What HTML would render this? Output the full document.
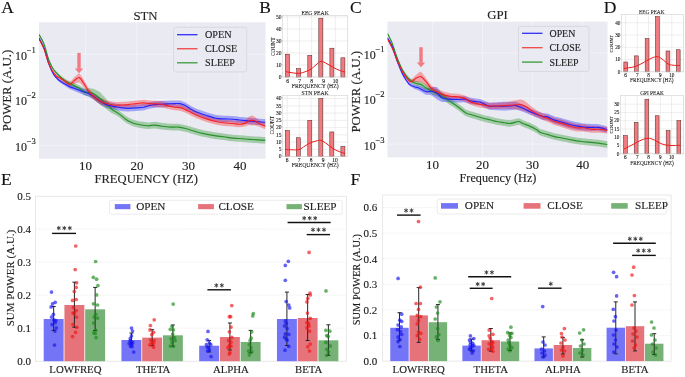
<!DOCTYPE html>
<html><head><meta charset="utf-8"><style>
html,body{margin:0;padding:0;background:#fff;width:685px;height:377px;overflow:hidden;}
svg{display:block;font-family:"Liberation Serif", serif;-webkit-font-smoothing:antialiased;}
text{stroke:currentColor;stroke-width:0.12px;}
body{transform:translateZ(0);will-change:transform;}
</style></head><body>
<svg width="685" height="377" viewBox="0 0 685 377" font-family='"Liberation Serif", serif'>
<rect width="685" height="377" fill="#ffffff"/>
<rect x="39" y="22.3" width="226.5" height="136.5" fill="#eaeaf2"/>
<line x1="85.4" y1="22.3" x2="85.4" y2="158.8" stroke="#ffffff" stroke-opacity="0.45" stroke-width="0.9"/>
<line x1="136.9" y1="22.3" x2="136.9" y2="158.8" stroke="#ffffff" stroke-opacity="0.45" stroke-width="0.9"/>
<line x1="188.4" y1="22.3" x2="188.4" y2="158.8" stroke="#ffffff" stroke-opacity="0.45" stroke-width="0.9"/>
<line x1="240.0" y1="22.3" x2="240.0" y2="158.8" stroke="#ffffff" stroke-opacity="0.45" stroke-width="0.9"/>
<line x1="39" y1="54.3" x2="265.5" y2="54.3" stroke="#ffffff" stroke-opacity="0.45" stroke-width="0.9"/>
<line x1="39" y1="99.5" x2="265.5" y2="99.5" stroke="#ffffff" stroke-opacity="0.45" stroke-width="0.9"/>
<line x1="39" y1="145.3" x2="265.5" y2="145.3" stroke="#ffffff" stroke-opacity="0.45" stroke-width="0.9"/>
<clipPath id="clipA"><rect x="39" y="22.3" width="226.5" height="136.5"/></clipPath>
<g clip-path="url(#clipA)">
<polygon points="39.00,33.50 40.49,36.33 41.98,39.16 43.47,41.99 44.96,46.20 46.45,51.17 47.94,56.14 49.43,60.28 50.92,63.23 52.41,66.14 53.90,68.68 55.39,70.21 56.88,71.74 58.37,73.27 59.86,74.80 61.35,75.95 62.84,77.06 64.33,78.17 65.82,79.16 67.31,79.92 68.80,80.68 70.29,81.41 71.78,82.05 73.27,82.69 74.76,83.33 76.25,83.97 77.74,84.61 79.23,85.25 80.72,86.18 82.21,87.13 83.70,88.08 85.19,88.86 86.68,88.56 88.17,88.27 89.66,88.29 91.15,88.40 92.64,88.52 94.13,89.04 95.62,89.80 97.12,90.57 98.61,91.33 100.10,92.18 101.59,93.82 103.08,95.45 104.57,97.08 106.06,98.71 107.55,100.42 109.04,102.15 110.53,103.89 112.02,105.61 113.51,106.85 115.00,108.08 116.49,109.02 117.98,109.96 119.47,110.98 120.96,112.17 122.45,113.37 123.94,114.56 125.43,115.76 126.92,116.60 128.41,117.39 129.90,118.18 131.39,118.97 132.88,119.58 134.37,119.98 135.86,120.38 137.35,120.78 138.84,121.18 140.33,121.40 141.82,121.61 143.31,121.82 144.80,122.03 146.29,122.24 147.78,122.45 149.27,122.38 150.76,122.22 152.25,122.07 153.74,121.91 155.23,121.87 156.72,122.12 158.21,122.37 159.70,122.62 161.19,122.87 162.68,123.02 164.17,123.17 165.66,123.31 167.15,123.46 168.64,123.60 170.13,123.74 171.62,123.80 173.11,123.80 174.60,123.80 176.09,123.80 177.58,123.80 179.07,123.90 180.56,124.22 182.05,124.53 183.54,124.85 185.03,125.17 186.52,125.48 188.01,125.92 189.50,126.37 190.99,126.81 192.48,127.26 193.97,127.69 195.46,128.11 196.95,128.53 198.44,128.95 199.93,129.37 201.42,129.80 202.91,130.18 204.40,130.46 205.89,130.74 207.38,131.02 208.88,131.30 210.37,131.58 211.86,131.87 213.35,132.13 214.84,132.33 216.33,132.53 217.82,132.72 219.31,132.92 220.80,133.12 222.29,133.31 223.78,133.51 225.27,133.72 226.76,133.93 228.25,134.14 229.74,134.34 231.23,134.55 232.72,134.76 234.21,134.88 235.70,134.97 237.19,135.07 238.68,135.17 240.17,135.26 241.66,135.36 243.15,135.48 244.64,135.61 246.13,135.75 247.62,135.88 249.11,136.02 250.60,136.14 252.09,136.23 253.58,136.33 255.07,136.43 256.56,136.52 258.05,136.62 259.54,136.72 261.03,136.81 262.52,136.91 264.01,137.00 265.50,137.10 265.50,143.70 264.01,143.60 262.52,143.51 261.03,143.41 259.54,143.32 258.05,143.22 256.56,143.12 255.07,143.03 253.58,142.93 252.09,142.83 250.60,142.74 249.11,142.62 247.62,142.48 246.13,142.35 244.64,142.21 243.15,142.08 241.66,141.96 240.17,141.86 238.68,141.77 237.19,141.67 235.70,141.57 234.21,141.48 232.72,141.36 231.23,141.15 229.74,140.94 228.25,140.74 226.76,140.53 225.27,140.32 223.78,140.11 222.29,139.91 220.80,139.72 219.31,139.52 217.82,139.32 216.33,139.13 214.84,138.93 213.35,138.73 211.86,138.47 210.37,138.18 208.88,137.90 207.38,137.62 205.89,137.34 204.40,137.06 202.91,136.78 201.42,136.40 199.93,135.97 198.44,135.55 196.95,135.13 195.46,134.71 193.97,134.29 192.48,133.86 190.99,133.41 189.50,132.97 188.01,132.52 186.52,132.08 185.03,131.77 183.54,131.45 182.05,131.13 180.56,130.82 179.07,130.50 177.58,130.40 176.09,130.40 174.60,130.40 173.11,130.40 171.62,130.40 170.13,130.34 168.64,130.20 167.15,130.06 165.66,129.91 164.17,129.77 162.68,129.62 161.19,129.47 159.70,129.22 158.21,128.97 156.72,128.72 155.23,128.47 153.74,128.51 152.25,128.67 150.76,128.82 149.27,128.98 147.78,129.05 146.29,128.84 144.80,128.63 143.31,128.42 141.82,128.21 140.33,128.00 138.84,127.78 137.35,127.38 135.86,126.98 134.37,126.58 132.88,126.18 131.39,125.57 129.90,124.78 128.41,123.99 126.92,123.20 125.43,122.36 123.94,121.16 122.45,119.97 120.96,118.77 119.47,117.58 117.98,116.56 116.49,115.62 115.00,114.68 113.51,114.05 112.02,113.41 110.53,112.27 109.04,111.14 107.55,110.00 106.06,108.89 104.57,107.85 103.08,106.82 101.59,105.78 100.10,104.75 98.61,103.37 97.12,102.01 95.62,100.65 94.13,99.29 92.64,98.18 91.15,97.47 89.66,96.75 88.17,96.13 86.68,95.84 85.19,95.54 83.70,94.51 82.21,93.36 80.72,92.22 79.23,91.09 77.74,90.25 76.25,89.42 74.76,88.58 73.27,87.75 71.78,86.91 70.29,86.08 68.80,85.15 67.31,84.19 65.82,83.24 64.33,82.06 62.84,80.75 61.35,79.44 59.86,78.10 58.37,76.37 56.88,74.65 55.39,72.92 53.90,71.19 52.41,68.46 50.92,65.35 49.43,62.28 47.94,58.14 46.45,53.17 44.96,48.20 43.47,43.99 41.98,41.16 40.49,38.33 39.00,35.50" fill="#008000" fill-opacity="0.3"/>
<polygon points="39.00,37.00 40.49,39.98 41.98,42.96 43.47,45.94 44.96,50.18 46.45,55.12 47.94,60.05 49.43,64.30 50.92,67.54 52.41,70.74 53.90,73.51 55.39,75.13 56.88,76.74 58.37,78.32 59.86,79.18 61.35,80.05 62.84,80.91 64.33,81.78 65.82,82.59 67.31,83.33 68.80,84.06 70.29,84.73 71.78,85.16 73.27,85.60 74.76,86.03 76.25,86.47 77.74,86.90 79.23,87.34 80.72,87.78 82.21,88.22 83.70,88.66 85.19,89.11 86.68,89.65 88.17,90.18 89.66,90.97 91.15,91.82 92.64,92.68 94.13,93.67 95.62,94.73 97.12,95.79 98.61,96.85 100.10,97.87 101.59,98.74 103.08,99.61 104.57,100.47 106.06,101.34 107.55,101.82 109.04,102.14 110.53,102.45 112.02,102.77 113.51,103.08 115.00,103.40 116.49,103.69 117.98,103.99 119.47,104.28 120.96,104.57 122.45,104.75 123.94,104.84 125.43,104.93 126.92,105.02 128.41,105.09 129.90,105.02 131.39,104.94 132.88,104.87 134.37,104.79 135.86,104.72 137.35,104.59 138.84,104.45 140.33,104.30 141.82,104.16 143.31,104.02 144.80,103.63 146.29,103.21 147.78,102.79 149.27,102.37 150.76,102.09 152.25,101.83 153.74,101.58 155.23,101.37 156.72,101.28 158.21,101.19 159.70,101.10 161.19,101.01 162.68,100.94 164.17,100.87 165.66,100.81 167.15,100.74 168.64,100.67 170.13,100.60 171.62,100.54 173.11,100.47 174.60,100.40 176.09,100.40 177.58,100.40 179.07,100.40 180.56,100.61 182.05,101.17 183.54,101.74 185.03,102.30 186.52,103.16 188.01,104.09 189.50,105.02 190.99,105.90 192.48,106.64 193.97,107.39 195.46,108.13 196.95,108.88 198.44,109.44 199.93,109.97 201.42,110.50 202.91,111.03 204.40,111.56 205.89,112.09 207.38,112.56 208.88,112.99 210.37,113.42 211.86,113.85 213.35,114.29 214.84,114.72 216.33,115.05 217.82,115.18 219.31,115.31 220.80,115.44 222.29,115.57 223.78,115.70 225.27,115.75 226.76,115.80 228.25,115.85 229.74,115.89 231.23,115.94 232.72,115.99 234.21,116.15 235.70,116.34 237.19,116.53 238.68,116.72 240.17,116.88 241.66,117.03 243.15,117.17 244.64,117.32 246.13,117.46 247.62,117.61 249.11,117.75 250.60,117.90 252.09,118.04 253.58,118.19 255.07,118.33 256.56,118.48 258.05,118.62 259.54,118.71 261.03,118.81 262.52,118.91 264.01,119.00 265.50,119.10 265.50,125.50 264.01,125.40 262.52,125.31 261.03,125.21 259.54,125.11 258.05,125.02 256.56,124.88 255.07,124.73 253.58,124.59 252.09,124.44 250.60,124.30 249.11,124.15 247.62,124.01 246.13,123.86 244.64,123.72 243.15,123.57 241.66,123.43 240.17,123.28 238.68,123.12 237.19,122.93 235.70,122.74 234.21,122.55 232.72,122.39 231.23,122.34 229.74,122.29 228.25,122.25 226.76,122.20 225.27,122.15 223.78,122.10 222.29,121.97 220.80,121.84 219.31,121.71 217.82,121.58 216.33,121.45 214.84,121.12 213.35,120.69 211.86,120.25 210.37,119.82 208.88,119.39 207.38,118.96 205.89,118.49 204.40,117.96 202.91,117.43 201.42,116.90 199.93,116.37 198.44,115.84 196.95,115.28 195.46,114.53 193.97,113.79 192.48,113.04 190.99,112.30 189.50,111.42 188.01,110.49 186.52,109.56 185.03,108.70 183.54,108.14 182.05,107.57 180.56,107.01 179.07,106.80 177.58,106.80 176.09,106.80 174.60,106.80 173.11,106.87 171.62,106.94 170.13,107.00 168.64,107.07 167.15,107.14 165.66,107.21 164.17,107.27 162.68,107.34 161.19,107.41 159.70,107.50 158.21,107.59 156.72,107.68 155.23,107.77 153.74,107.98 152.25,108.23 150.76,108.49 149.27,108.77 147.78,109.19 146.29,109.61 144.80,110.03 143.31,110.42 141.82,110.56 140.33,110.70 138.84,110.85 137.35,110.99 135.86,111.12 134.37,111.19 132.88,111.27 131.39,111.34 129.90,111.42 128.41,111.49 126.92,111.42 125.43,111.33 123.94,111.24 122.45,111.15 120.96,110.97 119.47,110.68 117.98,110.39 116.49,110.09 115.00,109.80 113.51,109.48 112.02,109.17 110.53,108.85 109.04,108.54 107.55,108.22 106.06,107.74 104.57,106.87 103.08,106.01 101.59,105.14 100.10,104.27 98.61,103.25 97.12,102.19 95.62,101.13 94.13,100.07 92.64,99.08 91.15,98.22 89.66,97.37 88.17,96.58 86.68,96.05 85.19,95.51 83.70,94.90 82.21,94.27 80.72,93.64 79.23,93.01 77.74,92.39 76.25,91.77 74.76,91.15 73.27,90.52 71.78,89.90 70.29,89.28 68.80,88.42 67.31,87.50 65.82,86.58 64.33,85.58 62.84,84.53 61.35,83.48 59.86,82.42 58.37,81.37 56.88,79.61 55.39,77.81 53.90,76.01 52.41,73.04 50.92,69.65 49.43,66.30 47.94,62.05 46.45,57.12 44.96,52.18 43.47,47.94 41.98,44.96 40.49,41.98 39.00,39.00" fill="#0000ff" fill-opacity="0.3"/>
<polygon points="39.00,38.00 40.49,40.89 41.98,43.78 43.47,46.67 44.96,50.77 46.45,55.54 47.94,60.31 49.43,63.65 50.92,66.87 52.41,69.70 53.90,71.57 55.39,73.45 56.88,75.17 58.37,75.76 59.86,76.35 61.35,77.24 62.84,78.16 64.33,79.08 65.82,79.95 67.31,80.72 68.80,81.48 70.29,81.83 71.78,80.25 73.27,78.49 74.76,76.78 76.25,75.46 77.74,74.14 79.23,72.94 80.72,75.04 82.21,77.27 83.70,79.50 85.19,82.10 86.68,84.84 88.17,87.28 89.66,89.11 91.15,90.79 92.64,92.47 94.13,93.77 95.62,94.83 97.12,95.89 98.61,96.95 100.10,97.91 101.59,98.49 103.08,99.07 104.57,99.65 106.06,100.23 107.55,100.61 109.04,100.91 110.53,101.21 112.02,101.50 113.51,101.80 115.00,102.10 116.49,102.05 117.98,102.01 119.47,101.96 120.96,101.92 122.45,101.85 123.94,101.76 125.43,101.67 126.92,101.58 128.41,101.49 129.90,101.30 131.39,101.11 132.88,100.92 134.37,100.73 135.86,100.54 137.35,100.37 138.84,100.21 140.33,100.05 141.82,99.88 143.31,99.72 144.80,99.87 146.29,100.07 147.78,100.27 149.27,100.47 150.76,100.57 152.25,100.66 153.74,100.74 155.23,100.82 156.72,100.89 158.21,100.96 159.70,101.02 161.19,101.09 162.68,101.43 164.17,101.81 165.66,102.20 167.15,102.58 168.64,102.92 170.13,103.21 171.62,103.50 173.11,103.79 174.60,104.08 176.09,104.21 177.58,104.32 179.07,104.43 180.56,104.71 182.05,105.27 183.54,105.84 185.03,106.40 186.52,107.10 188.01,107.83 189.50,108.56 190.99,109.30 192.48,110.04 193.97,110.79 195.46,111.53 196.95,112.28 198.44,112.85 199.93,113.40 201.42,113.94 202.91,114.49 204.40,115.03 205.89,115.58 207.38,116.05 208.88,116.46 210.37,116.88 211.86,117.30 213.35,117.71 214.84,118.13 216.33,118.49 217.82,118.73 219.31,118.98 220.80,119.22 222.29,119.47 223.78,119.71 225.27,119.82 226.76,119.93 228.25,120.04 229.74,120.15 231.23,120.27 232.72,120.38 234.21,120.55 235.70,120.74 237.19,120.93 238.68,121.12 240.17,121.06 241.66,120.81 243.15,120.57 244.64,120.33 246.13,119.20 247.62,117.91 249.11,116.62 250.60,115.98 252.09,115.62 253.58,116.03 255.07,116.98 256.56,118.23 258.05,119.47 259.54,120.46 261.03,121.19 262.52,121.93 264.01,122.66 265.50,123.40 265.50,129.60 264.01,128.86 262.52,128.13 261.03,127.39 259.54,126.66 258.05,126.18 256.56,125.76 255.07,125.32 253.58,125.17 252.09,125.58 250.60,125.22 249.11,125.05 247.62,125.53 246.13,126.01 244.64,126.53 243.15,126.77 241.66,127.01 240.17,127.26 238.68,127.32 237.19,127.13 235.70,126.94 234.21,126.75 232.72,126.58 231.23,126.47 229.74,126.35 228.25,126.24 226.76,126.13 225.27,126.02 223.78,125.91 222.29,125.67 220.80,125.42 219.31,125.18 217.82,124.93 216.33,124.69 214.84,124.33 213.35,123.91 211.86,123.50 210.37,123.08 208.88,122.66 207.38,122.25 205.89,121.78 204.40,121.23 202.91,120.69 201.42,120.14 199.93,119.60 198.44,119.05 196.95,118.48 195.46,117.73 193.97,116.99 192.48,116.24 190.99,115.50 189.50,114.76 188.01,114.03 186.52,113.30 185.03,112.60 183.54,112.04 182.05,111.47 180.56,110.91 179.07,110.63 177.58,110.52 176.09,110.41 174.60,110.28 173.11,109.99 171.62,109.70 170.13,109.41 168.64,109.12 167.15,108.78 165.66,108.40 164.17,108.01 162.68,107.63 161.19,107.29 159.70,107.22 158.21,107.16 156.72,107.09 155.23,107.02 153.74,106.94 152.25,106.86 150.76,106.77 149.27,106.67 147.78,106.47 146.29,106.27 144.80,106.07 143.31,105.92 141.82,106.08 140.33,106.25 138.84,106.41 137.35,106.57 135.86,106.74 134.37,106.93 132.88,107.12 131.39,107.31 129.90,107.50 128.41,107.69 126.92,107.78 125.43,107.87 123.94,107.96 122.45,108.05 120.96,108.12 119.47,108.16 117.98,108.21 116.49,108.25 115.00,108.30 113.51,108.00 112.02,107.70 110.53,107.41 109.04,107.11 107.55,106.81 106.06,106.43 104.57,105.85 103.08,105.27 101.59,104.69 100.10,104.11 98.61,103.15 97.12,102.09 95.62,101.03 94.13,99.97 92.64,98.67 91.15,96.99 89.66,95.31 88.17,93.48 86.68,91.20 85.19,89.21 83.70,87.19 82.21,85.53 80.72,83.87 79.23,82.33 77.74,82.84 76.25,83.24 74.76,83.63 73.27,84.42 71.78,85.25 70.29,86.26 68.80,85.74 67.31,84.79 65.82,83.85 64.33,82.80 62.84,81.70 61.35,80.60 59.86,79.53 58.37,78.76 56.88,78.00 55.39,76.10 53.90,74.04 52.41,71.99 50.92,68.98 49.43,65.65 47.94,62.31 46.45,57.54 44.96,52.77 43.47,48.67 41.98,45.78 40.49,42.89 39.00,40.00" fill="#ff0000" fill-opacity="0.3"/>
<path d="M39.00,34.50 C39.83,36.08 42.37,39.75 44.00,44.00 C45.63,48.25 47.22,55.75 48.80,60.00 C50.38,64.25 51.63,66.73 53.50,69.50 C55.37,72.27 58.03,74.70 60.00,76.60 C61.97,78.50 63.63,79.73 65.30,80.90 C66.97,82.07 67.67,82.38 70.00,83.60 C72.33,84.82 76.80,86.77 79.30,88.20 C81.80,89.63 83.47,91.53 85.00,92.20 C86.53,92.87 87.13,91.98 88.50,92.20 C89.87,92.42 91.32,92.50 93.20,93.50 C95.08,94.50 97.58,96.42 99.80,98.20 C102.02,99.98 104.47,102.32 106.50,104.20 C108.53,106.08 109.92,107.88 112.00,109.50 C114.08,111.12 116.73,112.28 119.00,113.90 C121.27,115.52 123.40,117.73 125.60,119.20 C127.80,120.67 129.98,121.82 132.20,122.70 C134.42,123.58 136.25,123.98 138.90,124.50 C141.55,125.02 145.45,125.70 148.10,125.80 C150.75,125.90 152.58,125.03 154.80,125.10 C157.02,125.17 158.75,125.87 161.40,126.20 C164.05,126.53 167.83,126.95 170.70,127.10 C173.57,127.25 175.95,126.82 178.60,127.10 C181.25,127.38 184.15,128.18 186.60,128.80 C189.05,129.42 190.65,130.03 193.30,130.80 C195.95,131.57 199.20,132.63 202.50,133.40 C205.80,134.17 209.57,134.83 213.10,135.40 C216.63,135.97 220.38,136.35 223.70,136.80 C227.02,137.25 229.90,137.78 233.00,138.10 C236.10,138.42 239.47,138.48 242.30,138.70 C245.13,138.92 246.13,139.12 250.00,139.40 C253.87,139.68 262.92,140.23 265.50,140.40" fill="none" stroke="#1d8c1d" stroke-width="1.15" stroke-opacity="0.92" stroke-linejoin="round"/>
<path d="M39.00,38.00 C39.83,39.67 42.37,43.68 44.00,48.00 C45.63,52.32 47.22,59.52 48.80,63.90 C50.38,68.28 51.92,71.65 53.50,74.30 C55.08,76.95 56.33,78.13 58.30,79.80 C60.27,81.47 63.35,83.12 65.30,84.30 C67.25,85.48 67.67,85.92 70.00,86.90 C72.33,87.88 76.22,89.10 79.30,90.20 C82.38,91.30 86.18,92.50 88.50,93.50 C90.82,94.50 91.32,94.97 93.20,96.20 C95.08,97.43 97.58,99.47 99.80,100.90 C102.02,102.33 103.97,103.85 106.50,104.80 C109.03,105.75 112.48,106.08 115.00,106.60 C117.52,107.12 119.38,107.62 121.60,107.90 C123.82,108.18 125.87,108.30 128.30,108.30 C130.73,108.30 133.67,108.08 136.20,107.90 C138.73,107.72 141.28,107.60 143.50,107.20 C145.72,106.80 147.62,105.93 149.50,105.50 C151.38,105.07 152.82,104.82 154.80,104.60 C156.78,104.38 159.20,104.32 161.40,104.20 C163.60,104.08 165.78,104.00 168.00,103.90 C170.22,103.80 172.70,103.65 174.70,103.60 C176.70,103.55 178.23,103.27 180.00,103.60 C181.77,103.93 183.53,104.72 185.30,105.60 C187.07,106.48 188.62,107.80 190.60,108.90 C192.58,110.00 194.55,111.10 197.20,112.20 C199.85,113.30 203.40,114.50 206.50,115.50 C209.60,116.50 212.93,117.63 215.80,118.20 C218.67,118.77 220.83,118.73 223.70,118.90 C226.57,119.07 230.40,119.02 233.00,119.20 C235.60,119.38 236.70,119.72 239.30,120.00 C241.90,120.28 245.52,120.60 248.60,120.90 C251.68,121.20 254.98,121.57 257.80,121.80 C260.62,122.03 264.22,122.22 265.50,122.30" fill="none" stroke="#1a1aff" stroke-width="1.15" stroke-opacity="0.92" stroke-linejoin="round"/>
<path d="M39.00,39.00 C39.83,40.62 42.50,44.95 44.00,48.70 C45.50,52.45 46.67,57.90 48.00,61.50 C49.33,65.10 50.55,67.80 52.00,70.30 C53.45,72.80 55.37,75.22 56.70,76.50 C58.03,77.78 58.57,77.15 60.00,78.00 C61.43,78.85 63.63,80.55 65.30,81.60 C66.97,82.65 68.45,84.52 70.00,84.30 C71.55,84.08 73.05,81.42 74.60,80.30 C76.15,79.18 77.75,77.05 79.30,77.60 C80.85,78.15 82.37,81.38 83.90,83.60 C85.43,85.82 86.95,88.80 88.50,90.90 C90.05,93.00 91.32,94.53 93.20,96.20 C95.08,97.87 97.58,99.68 99.80,100.90 C102.02,102.12 103.97,102.78 106.50,103.50 C109.03,104.22 112.48,104.95 115.00,105.20 C117.52,105.45 119.38,105.10 121.60,105.00 C123.82,104.90 125.87,104.83 128.30,104.60 C130.73,104.37 133.67,103.90 136.20,103.60 C138.73,103.30 141.28,102.80 143.50,102.80 C145.72,102.80 147.62,103.42 149.50,103.60 C151.38,103.78 152.82,103.80 154.80,103.90 C156.78,104.00 159.20,103.87 161.40,104.20 C163.60,104.53 165.78,105.40 168.00,105.90 C170.22,106.40 172.70,106.92 174.70,107.20 C176.70,107.48 178.23,107.20 180.00,107.60 C181.77,108.00 183.53,108.83 185.30,109.60 C187.07,110.37 188.62,111.22 190.60,112.20 C192.58,113.18 194.55,114.38 197.20,115.50 C199.85,116.62 203.40,117.90 206.50,118.90 C209.60,119.90 212.93,120.85 215.80,121.50 C218.67,122.15 220.83,122.47 223.70,122.80 C226.57,123.13 230.40,123.25 233.00,123.50 C235.60,123.75 237.33,124.32 239.30,124.30 C241.27,124.28 243.10,124.02 244.80,123.40 C246.50,122.78 247.95,121.07 249.50,120.60 C251.05,120.13 252.72,120.25 254.10,120.60 C255.48,120.95 255.90,121.72 257.80,122.70 C259.70,123.68 264.22,125.87 265.50,126.50" fill="none" stroke="#f51a1a" stroke-width="1.15" stroke-opacity="0.92" stroke-linejoin="round"/>
</g>
<rect x="77.3" y="52.9" width="3.4" height="15.899999999999999" fill="#f27a82"/>
<polygon points="74.8,68.39999999999999 83.2,68.39999999999999 79.0,73.3" fill="#f27a82"/>
<rect x="173.5" y="27.3" width="73.1" height="44.60000000000001" rx="2" fill="#eaeaf2" stroke="#d4d4d8" stroke-width="0.8"/>
<line x1="177.0" y1="34.7" x2="197.5" y2="34.7" stroke="#3030f5" stroke-width="1.3"/>
<text x="205.00" y="38.30" font-size="10.2" text-anchor="start" fill="#262626" >OPEN</text>
<line x1="177.0" y1="48.75" x2="197.5" y2="48.75" stroke="#f04545" stroke-width="1.3"/>
<text x="205.00" y="52.35" font-size="10.2" text-anchor="start" fill="#262626" >CLOSE</text>
<line x1="177.0" y1="62.800000000000004" x2="197.5" y2="62.800000000000004" stroke="#3a9a3a" stroke-width="1.3"/>
<text x="205.00" y="66.40" font-size="10.2" text-anchor="start" fill="#262626" >SLEEP</text>
<text x="145.50" y="19.60" font-size="12.8" text-anchor="middle" fill="#262626" >STN</text>
<text x="85.40" y="169.90" font-size="13" text-anchor="middle" fill="#262626" >10</text>
<text x="136.90" y="169.90" font-size="13" text-anchor="middle" fill="#262626" >20</text>
<text x="188.40" y="169.90" font-size="13" text-anchor="middle" fill="#262626" >30</text>
<text x="240.00" y="169.90" font-size="13" text-anchor="middle" fill="#262626" >40</text>
<text x="146.20" y="182.70" font-size="12.6" text-anchor="middle" fill="#262626" >FREQUENCY (HZ)</text>
<text x="26.90" y="60.10" font-size="12" text-anchor="end" fill="#262626">10</text>
<text x="35.80" y="52.80" font-size="8.6" text-anchor="end" fill="#262626">−1</text>
<text x="26.90" y="105.30" font-size="12" text-anchor="end" fill="#262626">10</text>
<text x="35.80" y="98.00" font-size="8.6" text-anchor="end" fill="#262626">−2</text>
<text x="26.90" y="151.10" font-size="12" text-anchor="end" fill="#262626">10</text>
<text x="35.80" y="143.80" font-size="8.6" text-anchor="end" fill="#262626">−3</text>
<text x="0" y="0" font-size="12.8" text-anchor="middle" fill="#262626" transform="translate(11.0,90.5) rotate(-90)">POWER (A.U.)</text>
<text x="1.20" y="13.10" font-size="17.5" text-anchor="start" fill="#111" >A</text>
<rect x="387.5" y="21.6" width="220.0" height="135.8" fill="#eaeaf2"/>
<line x1="432.4" y1="21.6" x2="432.4" y2="157.4" stroke="#ffffff" stroke-opacity="0.45" stroke-width="0.9"/>
<line x1="482.5" y1="21.6" x2="482.5" y2="157.4" stroke="#ffffff" stroke-opacity="0.45" stroke-width="0.9"/>
<line x1="532.6" y1="21.6" x2="532.6" y2="157.4" stroke="#ffffff" stroke-opacity="0.45" stroke-width="0.9"/>
<line x1="582.8" y1="21.6" x2="582.8" y2="157.4" stroke="#ffffff" stroke-opacity="0.45" stroke-width="0.9"/>
<line x1="387.5" y1="53.0" x2="607.5" y2="53.0" stroke="#ffffff" stroke-opacity="0.45" stroke-width="0.9"/>
<line x1="387.5" y1="98.5" x2="607.5" y2="98.5" stroke="#ffffff" stroke-opacity="0.45" stroke-width="0.9"/>
<line x1="387.5" y1="144.1" x2="607.5" y2="144.1" stroke="#ffffff" stroke-opacity="0.45" stroke-width="0.9"/>
<clipPath id="clipC"><rect x="387.5" y="21.6" width="220.0" height="135.8"/></clipPath>
<g clip-path="url(#clipC)">
<polygon points="387.50,32.40 389.00,35.52 390.49,38.64 391.99,41.76 393.49,46.03 394.98,50.49 396.48,54.95 397.98,58.73 399.47,62.15 400.97,65.48 402.47,68.77 403.96,70.84 405.46,72.79 406.96,74.74 408.45,76.70 409.95,77.86 411.45,78.67 412.94,79.49 414.44,80.31 415.94,80.77 417.43,81.01 418.93,81.26 420.43,81.50 421.92,82.16 423.42,83.00 424.91,83.85 426.41,84.70 427.91,85.56 429.40,86.41 430.90,87.26 432.40,88.08 433.89,88.69 435.39,89.30 436.89,89.91 438.38,90.57 439.88,91.44 441.38,92.31 442.87,93.18 444.37,94.05 445.87,95.16 447.36,96.36 448.86,97.57 450.36,98.53 451.85,99.49 453.35,100.44 454.85,101.40 456.34,102.35 457.84,103.40 459.34,104.58 460.83,105.75 462.33,106.93 463.83,108.11 465.32,109.28 466.82,109.92 468.32,110.43 469.81,110.94 471.31,111.39 472.81,111.83 474.30,112.27 475.80,112.71 477.30,113.17 478.79,113.62 480.29,114.07 481.79,114.53 483.28,114.98 484.78,115.43 486.28,115.76 487.77,116.07 489.27,116.37 490.77,116.72 492.26,117.11 493.76,117.49 495.26,117.88 496.75,118.24 498.25,118.48 499.74,118.73 501.24,118.97 502.74,119.21 504.23,119.46 505.73,119.66 507.23,119.86 508.72,120.06 510.22,120.10 511.72,119.75 513.21,119.40 514.71,119.05 516.21,118.73 517.70,118.45 519.20,118.25 520.70,119.02 522.19,119.79 523.69,120.47 525.19,121.05 526.68,121.63 528.18,122.21 529.68,122.79 531.17,123.54 532.67,124.29 534.17,125.03 535.66,125.78 537.16,126.75 538.66,127.88 540.15,128.95 541.65,129.40 543.15,129.85 544.64,130.30 546.14,130.75 547.64,131.20 549.13,131.65 550.63,132.10 552.13,132.55 553.62,133.01 555.12,133.40 556.62,133.69 558.11,133.97 559.61,134.26 561.11,134.55 562.60,134.84 564.10,135.15 565.60,135.46 567.09,135.77 568.59,136.07 570.09,136.37 571.58,136.66 573.08,136.94 574.57,137.23 576.07,137.52 577.57,137.72 579.06,137.88 580.56,138.05 582.06,138.21 583.55,138.37 585.05,138.52 586.55,138.67 588.04,138.81 589.54,138.96 591.04,139.10 592.53,139.25 594.03,139.39 595.53,139.53 597.02,139.68 598.52,139.84 600.02,140.08 601.51,140.32 603.01,140.57 604.51,140.81 606.00,141.06 607.50,141.30 607.50,147.90 606.00,147.66 604.51,147.41 603.01,147.17 601.51,146.92 600.02,146.68 598.52,146.44 597.02,146.28 595.53,146.13 594.03,145.99 592.53,145.85 591.04,145.70 589.54,145.56 588.04,145.41 586.55,145.27 585.05,145.12 583.55,144.97 582.06,144.81 580.56,144.65 579.06,144.48 577.57,144.32 576.07,144.12 574.57,143.83 573.08,143.54 571.58,143.26 570.09,142.97 568.59,142.67 567.09,142.37 565.60,142.06 564.10,141.75 562.60,141.44 561.11,141.15 559.61,140.86 558.11,140.57 556.62,140.29 555.12,140.00 553.62,139.61 552.13,139.15 550.63,138.70 549.13,138.25 547.64,137.80 546.14,137.35 544.64,136.90 543.15,136.45 541.65,136.00 540.15,135.55 538.66,134.48 537.16,133.35 535.66,132.38 534.17,131.63 532.67,130.89 531.17,130.14 529.68,129.39 528.18,128.81 526.68,128.23 525.19,127.65 523.69,127.07 522.19,126.39 520.70,125.62 519.20,124.85 517.70,125.05 516.21,125.33 514.71,125.65 513.21,126.00 511.72,126.35 510.22,126.70 508.72,126.66 507.23,126.46 505.73,126.26 504.23,126.06 502.74,125.81 501.24,125.57 499.74,125.33 498.25,125.08 496.75,124.84 495.26,124.48 493.76,124.09 492.26,123.71 490.77,123.32 489.27,122.97 487.77,122.67 486.28,122.36 484.78,122.03 483.28,121.58 481.79,121.13 480.29,120.67 478.79,120.22 477.30,119.77 475.80,119.31 474.30,118.87 472.81,118.43 471.31,117.99 469.81,117.54 468.32,117.03 466.82,116.52 465.32,115.88 463.83,114.71 462.33,113.53 460.83,112.35 459.34,111.18 457.84,110.00 456.34,108.95 454.85,108.00 453.35,107.04 451.85,106.09 450.36,105.13 448.86,104.17 447.36,102.96 445.87,101.76 444.37,100.65 442.87,99.78 441.38,98.91 439.88,98.04 438.38,97.17 436.89,96.51 435.39,95.90 433.89,95.29 432.40,94.68 430.90,93.86 429.40,93.01 427.91,92.16 426.41,91.30 424.91,90.44 423.42,89.31 421.92,88.19 420.43,87.26 418.93,86.74 417.43,86.22 415.94,85.70 414.44,84.97 412.94,83.88 411.45,82.78 409.95,81.69 408.45,80.25 406.96,78.02 405.46,75.80 403.96,73.57 402.47,71.22 400.97,67.66 399.47,64.15 397.98,60.73 396.48,56.95 394.98,52.49 393.49,48.03 391.99,43.76 390.49,40.64 389.00,37.52 387.50,34.40" fill="#008000" fill-opacity="0.3"/>
<polygon points="387.50,36.70 389.00,39.47 390.49,42.24 391.99,45.01 393.49,49.23 394.98,53.69 396.48,58.15 397.98,62.07 399.47,65.71 400.97,69.26 402.47,72.77 403.96,75.02 405.46,77.15 406.96,79.28 408.45,81.42 409.95,82.51 411.45,83.17 412.94,83.83 414.44,84.49 415.94,84.89 417.43,85.13 418.93,85.53 420.43,86.16 421.92,86.79 423.42,87.42 424.91,88.06 426.41,88.68 427.91,88.51 429.40,87.87 430.90,87.20 432.40,86.96 433.89,86.99 435.39,87.03 436.89,87.12 438.38,88.87 439.88,90.69 441.38,92.52 442.87,93.81 444.37,94.60 445.87,95.40 447.36,95.74 448.86,96.01 450.36,96.07 451.85,96.14 453.35,96.20 454.85,96.26 456.34,96.33 457.84,96.39 459.34,96.32 460.83,96.23 462.33,96.14 463.83,96.05 465.32,96.19 466.82,96.64 468.32,97.09 469.81,97.54 471.31,97.82 472.81,98.08 474.30,98.33 475.80,98.54 477.30,98.67 478.79,98.80 480.29,99.02 481.79,99.67 483.28,100.31 484.78,100.88 486.28,101.46 487.77,102.04 489.27,102.58 490.77,102.50 492.26,102.41 493.76,102.33 495.26,102.25 496.75,102.16 498.25,102.08 499.74,101.99 501.24,101.91 502.74,101.83 504.23,101.74 505.73,101.69 507.23,101.72 508.72,101.75 510.22,101.76 511.72,101.75 513.21,101.73 514.71,101.72 516.21,101.87 517.70,102.50 519.20,103.12 520.70,103.75 522.19,104.37 523.69,105.09 525.19,105.91 526.68,106.73 528.18,107.55 529.68,108.37 531.17,108.98 532.67,109.56 534.17,110.14 535.66,110.73 537.16,111.26 538.66,111.77 540.15,112.28 541.65,112.78 543.15,113.25 544.64,113.32 546.14,113.40 547.64,113.59 549.13,114.22 550.63,114.85 552.13,115.47 553.62,116.10 555.12,116.63 556.62,116.99 558.11,117.35 559.61,117.71 561.11,118.07 562.60,118.46 564.10,118.88 565.60,119.30 567.09,119.72 568.59,120.14 570.09,120.51 571.58,120.89 573.08,121.26 574.57,121.64 576.07,122.02 577.57,122.33 579.06,122.60 580.56,122.88 582.06,123.15 583.55,123.43 585.05,123.55 586.55,123.65 588.04,123.74 589.54,123.83 591.04,123.92 592.53,123.95 594.03,123.98 595.53,124.01 597.02,124.04 598.52,124.13 600.02,124.53 601.51,124.93 603.01,125.34 604.51,125.74 606.00,126.15 607.50,126.55 607.50,132.85 606.00,132.51 604.51,132.16 603.01,131.82 601.51,131.47 600.02,131.13 598.52,130.78 597.02,130.76 595.53,130.79 594.03,130.82 592.53,130.85 591.04,130.88 589.54,130.85 588.04,130.82 586.55,130.78 585.05,130.75 583.55,130.69 582.06,130.47 580.56,130.26 579.06,130.04 577.57,129.82 576.07,129.58 574.57,129.26 573.08,128.94 571.58,128.62 570.09,128.30 568.59,127.89 567.09,127.41 565.60,126.93 564.10,126.44 562.60,125.96 561.11,125.52 559.61,125.10 558.11,124.68 556.62,124.26 555.12,123.84 553.62,123.24 552.13,122.56 550.63,121.87 549.13,121.19 547.64,120.50 546.14,120.24 544.64,120.11 543.15,119.97 541.65,119.45 540.15,118.88 538.66,118.32 537.16,117.75 535.66,117.15 534.17,116.51 532.67,115.87 531.17,115.23 529.68,114.61 528.18,113.95 526.68,113.30 525.19,112.65 523.69,111.99 522.19,111.45 520.70,110.99 519.20,110.53 517.70,110.08 516.21,109.62 514.71,109.63 513.21,109.81 511.72,110.00 510.22,110.18 508.72,110.33 507.23,110.47 505.73,110.61 504.23,110.66 502.74,110.57 501.24,110.49 499.74,110.41 498.25,110.32 496.75,110.24 495.26,110.15 493.76,110.07 492.26,109.99 490.77,109.90 489.27,109.82 487.77,109.11 486.28,108.36 484.78,107.62 483.28,106.88 481.79,106.07 480.29,105.26 478.79,105.00 477.30,104.87 475.80,104.74 474.30,104.53 472.81,104.28 471.31,104.02 469.81,103.74 468.32,103.29 466.82,102.84 465.32,102.39 463.83,102.25 462.33,102.34 460.83,102.43 459.34,102.52 457.84,102.59 456.34,102.53 454.85,102.46 453.35,102.40 451.85,102.34 450.36,102.27 448.86,102.21 447.36,101.94 445.87,101.69 444.37,101.89 442.87,102.09 441.38,101.80 439.88,100.97 438.38,100.14 436.89,99.24 435.39,98.16 433.89,97.12 432.40,96.09 430.90,95.33 429.40,95.01 427.91,94.71 426.41,94.88 424.91,94.24 423.42,93.36 421.92,92.48 420.43,91.59 418.93,90.71 417.43,90.05 415.94,89.57 414.44,88.92 412.94,88.01 411.45,87.10 409.95,86.19 408.45,84.84 406.96,82.45 405.46,80.07 403.96,77.69 402.47,75.18 400.97,71.42 399.47,67.71 397.98,64.07 396.48,60.15 394.98,55.69 393.49,51.23 391.99,47.01 390.49,44.24 389.00,41.47 387.50,38.70" fill="#0000ff" fill-opacity="0.3"/>
<polygon points="387.50,38.00 389.00,40.87 390.49,43.73 391.99,46.60 393.49,50.19 394.98,53.90 396.48,57.61 397.98,60.99 399.47,64.20 400.97,67.32 402.47,70.41 403.96,72.47 405.46,74.44 406.96,76.40 408.45,78.36 409.95,79.13 411.45,79.40 412.94,78.32 414.44,76.46 415.94,75.00 417.43,73.78 418.93,72.56 420.43,71.62 421.92,72.80 423.42,74.66 424.91,76.52 426.41,78.55 427.91,80.90 429.40,82.79 430.90,84.65 432.40,85.94 433.89,86.85 435.39,87.76 436.89,88.67 438.38,89.51 439.88,90.09 441.38,90.67 442.87,91.25 444.37,91.83 445.87,92.23 447.36,92.54 448.86,92.86 450.36,93.18 451.85,93.43 453.35,93.52 454.85,93.61 456.34,93.70 457.84,93.79 459.34,94.10 460.83,94.43 462.33,94.77 463.83,95.10 465.32,95.68 466.82,96.58 468.32,97.48 469.81,98.39 471.31,98.90 472.81,99.35 474.30,99.80 475.80,100.26 477.30,100.64 478.79,100.93 480.29,101.22 481.79,101.51 483.28,101.80 484.78,102.08 486.28,102.35 487.77,102.63 489.27,102.90 490.77,102.90 492.26,102.90 493.76,102.90 495.26,102.90 496.75,102.89 498.25,102.81 499.74,102.74 501.24,102.66 502.74,102.59 504.23,102.51 505.73,102.41 507.23,102.11 508.72,101.77 510.22,101.45 511.72,101.15 513.21,100.85 514.71,100.55 516.21,100.24 517.70,99.92 519.20,99.60 520.70,99.40 522.19,99.77 523.69,100.53 525.19,101.29 526.68,102.39 528.18,103.66 529.68,104.93 531.17,106.16 532.67,107.29 534.17,108.41 535.66,109.54 537.16,110.55 538.66,111.39 540.15,112.09 541.65,112.80 543.15,113.49 544.64,113.98 546.14,114.47 547.64,114.99 549.13,115.62 550.63,116.25 552.13,116.87 553.62,117.50 555.12,118.03 556.62,118.39 558.11,118.75 559.61,119.11 561.11,119.47 562.60,119.89 564.10,120.37 565.60,120.85 567.09,121.34 568.59,121.82 570.09,122.23 571.58,122.65 573.08,123.07 574.57,123.49 576.07,123.91 577.57,124.05 579.06,124.08 580.56,124.11 582.06,124.14 583.55,124.17 585.05,124.46 586.55,124.80 588.04,125.15 589.54,125.49 591.04,125.82 592.53,125.85 594.03,125.88 595.53,125.91 597.02,125.94 598.52,125.99 600.02,126.19 601.51,126.38 603.01,126.57 604.51,126.76 606.00,126.96 607.50,127.15 607.50,133.45 606.00,133.32 604.51,133.18 603.01,133.05 601.51,132.92 600.02,132.79 598.52,132.65 597.02,132.66 595.53,132.69 594.03,132.72 592.53,132.75 591.04,132.78 589.54,132.51 588.04,132.22 586.55,131.94 585.05,131.66 583.55,131.43 582.06,131.46 580.56,131.49 579.06,131.52 577.57,131.55 576.07,131.47 574.57,131.11 573.08,130.75 571.58,130.39 570.09,130.03 568.59,129.56 567.09,129.02 565.60,128.48 564.10,127.93 562.60,127.39 561.11,126.92 559.61,126.50 558.11,126.08 556.62,125.66 555.12,125.24 553.62,124.64 552.13,123.96 550.63,123.27 549.13,122.59 547.64,121.90 546.14,121.32 544.64,120.77 543.15,120.21 541.65,119.47 540.15,118.70 538.66,117.93 537.16,117.29 535.66,116.67 534.17,115.93 532.67,115.19 531.17,114.46 529.68,113.62 528.18,112.80 526.68,111.98 525.19,111.34 523.69,111.03 522.19,110.71 520.70,110.01 519.20,109.76 517.70,109.63 516.21,109.50 514.71,109.36 513.21,109.21 511.72,109.06 510.22,108.91 508.72,108.79 507.23,108.68 505.73,108.61 504.23,108.71 502.74,108.79 501.24,108.86 499.74,108.94 498.25,109.01 496.75,109.09 495.26,109.10 493.76,109.10 492.26,109.10 490.77,109.10 489.27,109.10 487.77,108.83 486.28,108.55 484.78,108.28 483.28,108.00 481.79,107.71 480.29,107.42 478.79,107.13 477.30,106.84 475.80,106.46 474.30,106.00 472.81,105.55 471.31,105.10 469.81,104.59 468.32,103.68 466.82,102.78 465.32,101.88 463.83,101.30 462.33,100.97 460.83,100.63 459.34,100.30 457.84,99.99 456.34,99.90 454.85,99.81 453.35,99.72 451.85,99.63 450.36,99.38 448.86,99.06 447.36,98.74 445.87,98.43 444.37,98.03 442.87,97.45 441.38,96.87 439.88,96.29 438.38,95.71 436.89,94.87 435.39,93.96 433.89,93.05 432.40,92.14 430.90,90.85 429.40,88.99 427.91,87.16 426.41,85.78 424.91,84.71 423.42,83.57 421.92,82.44 420.43,81.97 418.93,82.24 417.43,82.24 415.94,82.24 414.44,82.47 412.94,83.11 411.45,83.32 409.95,82.81 408.45,81.78 406.96,79.57 405.46,77.35 403.96,75.14 402.47,72.82 400.97,69.49 399.47,66.20 397.98,62.99 396.48,59.61 394.98,55.90 393.49,52.19 391.99,48.60 390.49,45.73 389.00,42.87 387.50,40.00" fill="#ff0000" fill-opacity="0.3"/>
<path d="M387.50,33.40 C388.28,35.03 390.62,39.18 392.20,43.20 C393.78,47.22 395.27,52.98 397.00,57.50 C398.73,62.02 400.62,66.70 402.60,70.30 C404.58,73.90 406.83,76.98 408.90,79.10 C410.97,81.22 413.00,82.10 415.00,83.00 C417.00,83.90 419.23,83.80 420.90,84.50 C422.57,85.20 423.12,86.07 425.00,87.20 C426.88,88.33 430.02,90.22 432.20,91.30 C434.38,92.38 436.00,92.65 438.10,93.70 C440.20,94.75 443.00,96.40 444.80,97.60 C446.60,98.80 446.83,99.47 448.90,100.90 C450.97,102.33 454.42,104.22 457.20,106.20 C459.98,108.18 463.47,111.45 465.60,112.80 C467.73,114.15 468.42,113.80 470.00,114.30 C471.58,114.80 472.60,115.05 475.10,115.80 C477.60,116.55 482.53,118.13 485.00,118.80 C487.47,119.47 487.98,119.35 489.90,119.80 C491.82,120.25 494.07,121.00 496.50,121.50 C498.93,122.00 502.28,122.47 504.50,122.80 C506.72,123.13 507.92,123.62 509.80,123.50 C511.68,123.38 514.25,122.43 515.80,122.10 C517.35,121.77 517.90,121.27 519.10,121.50 C520.30,121.73 521.23,122.73 523.00,123.50 C524.77,124.27 527.48,125.12 529.70,126.10 C531.92,127.08 534.58,128.38 536.30,129.40 C538.02,130.42 538.17,131.37 540.00,132.20 C541.83,133.03 544.87,133.67 547.30,134.40 C549.73,135.13 552.17,136.00 554.60,136.60 C557.03,137.20 559.47,137.52 561.90,138.00 C564.33,138.48 566.77,139.02 569.20,139.50 C571.63,139.98 574.07,140.53 576.50,140.90 C578.93,141.27 581.38,141.45 583.80,141.70 C586.22,141.95 588.58,142.17 591.00,142.40 C593.42,142.63 595.55,142.73 598.30,143.10 C601.05,143.47 605.97,144.35 607.50,144.60" fill="none" stroke="#1d8c1d" stroke-width="1.15" stroke-opacity="0.92" stroke-linejoin="round"/>
<path d="M387.50,37.70 C388.28,39.15 390.62,42.57 392.20,46.40 C393.78,50.23 395.27,56.05 397.00,60.70 C398.73,65.35 400.62,70.45 402.60,74.30 C404.58,78.15 406.83,81.68 408.90,83.80 C410.97,85.92 413.43,86.33 415.00,87.00 C416.57,87.67 416.43,87.00 418.30,87.80 C420.17,88.60 424.00,91.23 426.20,91.80 C428.40,92.37 429.73,90.98 431.50,91.20 C433.27,91.42 435.03,92.00 436.80,93.10 C438.57,94.20 440.12,96.80 442.10,97.80 C444.08,98.80 446.05,98.82 448.70,99.10 C451.35,99.38 455.33,99.50 458.00,99.50 C460.67,99.50 462.70,98.90 464.70,99.10 C466.70,99.30 468.23,100.28 470.00,100.70 C471.77,101.12 473.63,101.38 475.30,101.60 C476.97,101.82 478.67,101.67 480.00,102.00 C481.33,102.33 481.77,102.90 483.30,103.60 C484.83,104.30 487.00,105.77 489.20,106.20 C491.40,106.63 493.95,106.20 496.50,106.20 C499.05,106.20 502.28,106.23 504.50,106.20 C506.72,106.17 507.92,106.10 509.80,106.00 C511.68,105.90 513.60,105.23 515.80,105.60 C518.00,105.97 520.68,107.22 523.00,108.20 C525.32,109.18 527.48,110.50 529.70,111.50 C531.92,112.50 534.08,113.35 536.30,114.20 C538.52,115.05 541.17,116.15 543.00,116.60 C544.83,117.05 545.37,116.32 547.30,116.90 C549.23,117.48 552.17,119.25 554.60,120.10 C557.03,120.95 559.47,121.32 561.90,122.00 C564.33,122.68 566.77,123.55 569.20,124.20 C571.63,124.85 574.07,125.42 576.50,125.90 C578.93,126.38 581.38,126.85 583.80,127.10 C586.22,127.35 588.58,127.35 591.00,127.40 C593.42,127.45 595.55,127.02 598.30,127.40 C601.05,127.78 605.97,129.32 607.50,129.70" fill="none" stroke="#1a1aff" stroke-width="1.15" stroke-opacity="0.92" stroke-linejoin="round"/>
<path d="M387.50,39.00 C388.28,40.50 390.62,44.52 392.20,48.00 C393.78,51.48 395.27,55.92 397.00,59.90 C398.73,63.88 400.62,68.43 402.60,71.90 C404.58,75.37 407.33,79.10 408.90,80.70 C410.47,82.30 410.98,81.78 412.00,81.50 C413.02,81.22 413.52,79.82 415.00,79.00 C416.48,78.18 419.03,76.12 420.90,76.60 C422.77,77.08 424.43,79.92 426.20,81.90 C427.97,83.88 429.52,86.73 431.50,88.50 C433.48,90.27 435.88,91.40 438.10,92.50 C440.32,93.60 442.58,94.43 444.80,95.10 C447.02,95.77 449.20,96.20 451.40,96.50 C453.60,96.80 455.78,96.58 458.00,96.90 C460.22,97.22 462.70,97.62 464.70,98.40 C466.70,99.18 468.02,100.73 470.00,101.60 C471.98,102.47 474.38,103.05 476.60,103.60 C478.82,104.15 481.20,104.50 483.30,104.90 C485.40,105.30 487.00,105.82 489.20,106.00 C491.40,106.18 493.95,106.07 496.50,106.00 C499.05,105.93 502.28,105.73 504.50,105.60 C506.72,105.47 507.92,105.32 509.80,105.20 C511.68,105.08 514.03,105.00 515.80,104.90 C517.57,104.80 518.75,104.33 520.40,104.60 C522.05,104.87 523.93,105.57 525.70,106.50 C527.47,107.43 529.23,109.03 531.00,110.20 C532.77,111.37 534.30,112.40 536.30,113.50 C538.30,114.60 541.17,116.00 543.00,116.80 C544.83,117.60 545.37,117.52 547.30,118.30 C549.23,119.08 552.17,120.65 554.60,121.50 C557.03,122.35 559.47,122.67 561.90,123.40 C564.33,124.13 566.77,125.17 569.20,125.90 C571.63,126.63 574.07,127.48 576.50,127.80 C578.93,128.12 581.38,127.55 583.80,127.80 C586.22,128.05 588.58,129.05 591.00,129.30 C593.42,129.55 595.55,129.13 598.30,129.30 C601.05,129.47 605.97,130.13 607.50,130.30" fill="none" stroke="#f51a1a" stroke-width="1.15" stroke-opacity="0.92" stroke-linejoin="round"/>
</g>
<rect x="419.3" y="47.2" width="3.4" height="15.599999999999994" fill="#f27a82"/>
<polygon points="416.8,62.4 425.2,62.4 421.0,67.3" fill="#f27a82"/>
<rect x="518.5" y="26.4" width="70.60000000000002" height="45.00000000000001" rx="2" fill="#eaeaf2" stroke="#d4d4d8" stroke-width="0.8"/>
<line x1="522.0" y1="33.3" x2="542.5" y2="33.3" stroke="#3030f5" stroke-width="1.3"/>
<text x="549.50" y="36.90" font-size="9.9" text-anchor="start" fill="#262626" >OPEN</text>
<line x1="522.0" y1="47.699999999999996" x2="542.5" y2="47.699999999999996" stroke="#f04545" stroke-width="1.3"/>
<text x="549.50" y="51.30" font-size="9.9" text-anchor="start" fill="#262626" >CLOSE</text>
<line x1="522.0" y1="62.099999999999994" x2="542.5" y2="62.099999999999994" stroke="#3a9a3a" stroke-width="1.3"/>
<text x="549.50" y="65.70" font-size="9.9" text-anchor="start" fill="#262626" >SLEEP</text>
<text x="497.50" y="19.40" font-size="12.8" text-anchor="middle" fill="#262626" >GPI</text>
<text x="432.40" y="168.50" font-size="13" text-anchor="middle" fill="#262626" >10</text>
<text x="482.50" y="168.50" font-size="13" text-anchor="middle" fill="#262626" >20</text>
<text x="532.60" y="168.50" font-size="13" text-anchor="middle" fill="#262626" >30</text>
<text x="582.80" y="168.50" font-size="13" text-anchor="middle" fill="#262626" >40</text>
<text x="498.00" y="181.50" font-size="12.2" text-anchor="middle" fill="#262626" >Frequency (Hz)</text>
<text x="375.70" y="58.80" font-size="12" text-anchor="end" fill="#262626">10</text>
<text x="384.60" y="51.50" font-size="8.6" text-anchor="end" fill="#262626">−1</text>
<text x="375.70" y="104.30" font-size="12" text-anchor="end" fill="#262626">10</text>
<text x="384.60" y="97.00" font-size="8.6" text-anchor="end" fill="#262626">−2</text>
<text x="375.70" y="149.90" font-size="12" text-anchor="end" fill="#262626">10</text>
<text x="384.60" y="142.60" font-size="8.6" text-anchor="end" fill="#262626">−3</text>
<text x="0" y="0" font-size="12.8" text-anchor="middle" fill="#262626" transform="translate(359.8,91.8) rotate(-90)">POWER (A.U.)</text>
<text x="350.00" y="13.40" font-size="17.5" text-anchor="start" fill="#111" >C</text>
<rect x="282.4" y="15.3" width="65.10000000000002" height="61.7" fill="#ffffff"/>
<line x1="287.5" y1="15.3" x2="287.5" y2="77.0" stroke="#e3e3e3" stroke-width="0.6"/>
<line x1="299.5" y1="15.3" x2="299.5" y2="77.0" stroke="#e3e3e3" stroke-width="0.6"/>
<line x1="311.6" y1="15.3" x2="311.6" y2="77.0" stroke="#e3e3e3" stroke-width="0.6"/>
<line x1="323.5" y1="15.3" x2="323.5" y2="77.0" stroke="#e3e3e3" stroke-width="0.6"/>
<line x1="335.4" y1="15.3" x2="335.4" y2="77.0" stroke="#e3e3e3" stroke-width="0.6"/>
<line x1="282.4" y1="77.0" x2="347.5" y2="77.0" stroke="#e3e3e3" stroke-width="0.6"/>
<line x1="282.4" y1="65.0" x2="347.5" y2="65.0" stroke="#e3e3e3" stroke-width="0.6"/>
<line x1="282.4" y1="53.0" x2="347.5" y2="53.0" stroke="#e3e3e3" stroke-width="0.6"/>
<line x1="282.4" y1="41.0" x2="347.5" y2="41.0" stroke="#e3e3e3" stroke-width="0.6"/>
<line x1="282.4" y1="29.0" x2="347.5" y2="29.0" stroke="#e3e3e3" stroke-width="0.6"/>
<line x1="282.4" y1="17.0" x2="347.5" y2="17.0" stroke="#e3e3e3" stroke-width="0.6"/>
<rect x="285.40" y="54.20" width="4.00" height="22.80" fill="#f07c82" stroke="#5a2a2a" stroke-width="0.55"/>
<rect x="296.70" y="68.60" width="4.00" height="8.40" fill="#f07c82" stroke="#5a2a2a" stroke-width="0.55"/>
<rect x="307.80" y="55.40" width="4.00" height="21.60" fill="#f07c82" stroke="#5a2a2a" stroke-width="0.55"/>
<rect x="318.80" y="18.20" width="4.00" height="58.80" fill="#f07c82" stroke="#5a2a2a" stroke-width="0.55"/>
<rect x="329.90" y="48.20" width="4.00" height="28.80" fill="#f07c82" stroke="#5a2a2a" stroke-width="0.55"/>
<rect x="340.90" y="57.80" width="4.00" height="19.20" fill="#f07c82" stroke="#5a2a2a" stroke-width="0.55"/>
<path d="M285.40,71.50 C286.33,71.68 288.73,72.28 291.00,72.60 C293.27,72.92 296.67,73.53 299.00,73.40 C301.33,73.27 303.00,72.50 305.00,71.80 C307.00,71.10 309.17,70.37 311.00,69.20 C312.83,68.03 314.33,66.12 316.00,64.80 C317.67,63.48 319.17,61.47 321.00,61.30 C322.83,61.13 325.00,62.82 327.00,63.80 C329.00,64.78 331.00,66.13 333.00,67.20 C335.00,68.27 337.00,69.40 339.00,70.20 C341.00,71.00 344.00,71.70 345.00,72.00" fill="none" stroke="#f01c1c" stroke-width="1.0"/>
<rect x="282.4" y="15.3" width="65.10000000000002" height="61.7" fill="none" stroke="#d0d0d0" stroke-width="0.6"/>
<text x="287.50" y="82.60" font-size="5.5" text-anchor="middle" fill="#222" style="stroke-width:0.1px">6</text>
<text x="299.50" y="82.60" font-size="5.5" text-anchor="middle" fill="#222" style="stroke-width:0.1px">7</text>
<text x="311.60" y="82.60" font-size="5.5" text-anchor="middle" fill="#222" style="stroke-width:0.1px">8</text>
<text x="323.50" y="82.60" font-size="5.5" text-anchor="middle" fill="#222" style="stroke-width:0.1px">9</text>
<text x="335.40" y="82.60" font-size="5.5" text-anchor="middle" fill="#222" style="stroke-width:0.1px">10</text>
<text x="281.50" y="78.70" font-size="5.5" text-anchor="end" fill="#222" style="stroke-width:0.1px">0</text>
<text x="281.50" y="66.70" font-size="5.5" text-anchor="end" fill="#222" style="stroke-width:0.1px">10</text>
<text x="281.50" y="54.70" font-size="5.5" text-anchor="end" fill="#222" style="stroke-width:0.1px">20</text>
<text x="281.50" y="42.70" font-size="5.5" text-anchor="end" fill="#222" style="stroke-width:0.1px">30</text>
<text x="281.50" y="30.70" font-size="5.5" text-anchor="end" fill="#222" style="stroke-width:0.1px">40</text>
<text x="281.50" y="18.70" font-size="5.5" text-anchor="end" fill="#222" style="stroke-width:0.1px">50</text>
<text x="315.10" y="15.20" font-size="5.7" text-anchor="middle" fill="#333" style="stroke-width:0.1px">EEG PEAK</text>
<text x="315.20" y="87.60" font-size="5.7" text-anchor="middle" fill="#333" style="stroke-width:0.1px">FREQUENCY (HZ)</text>
<text x="0" y="0" font-size="5.4" text-anchor="middle" fill="#333" style="stroke-width:0.1px" transform="translate(274.6,46.8) rotate(-90)">COUNT</text>
<rect x="282.4" y="95.5" width="65.40000000000003" height="61.099999999999994" fill="#ffffff"/>
<line x1="287.2" y1="95.5" x2="287.2" y2="156.6" stroke="#e3e3e3" stroke-width="0.6"/>
<line x1="299.2" y1="95.5" x2="299.2" y2="156.6" stroke="#e3e3e3" stroke-width="0.6"/>
<line x1="311.1" y1="95.5" x2="311.1" y2="156.6" stroke="#e3e3e3" stroke-width="0.6"/>
<line x1="323.2" y1="95.5" x2="323.2" y2="156.6" stroke="#e3e3e3" stroke-width="0.6"/>
<line x1="334.9" y1="95.5" x2="334.9" y2="156.6" stroke="#e3e3e3" stroke-width="0.6"/>
<line x1="282.4" y1="156.6" x2="347.8" y2="156.6" stroke="#e3e3e3" stroke-width="0.6"/>
<line x1="282.4" y1="149.35" x2="347.8" y2="149.35" stroke="#e3e3e3" stroke-width="0.6"/>
<line x1="282.4" y1="142.1" x2="347.8" y2="142.1" stroke="#e3e3e3" stroke-width="0.6"/>
<line x1="282.4" y1="134.85" x2="347.8" y2="134.85" stroke="#e3e3e3" stroke-width="0.6"/>
<line x1="282.4" y1="127.6" x2="347.8" y2="127.6" stroke="#e3e3e3" stroke-width="0.6"/>
<line x1="282.4" y1="120.35" x2="347.8" y2="120.35" stroke="#e3e3e3" stroke-width="0.6"/>
<line x1="282.4" y1="113.1" x2="347.8" y2="113.1" stroke="#e3e3e3" stroke-width="0.6"/>
<line x1="282.4" y1="105.85" x2="347.8" y2="105.85" stroke="#e3e3e3" stroke-width="0.6"/>
<line x1="282.4" y1="98.6" x2="347.8" y2="98.6" stroke="#e3e3e3" stroke-width="0.6"/>
<rect x="285.30" y="130.50" width="4.00" height="26.10" fill="#f07c82" stroke="#5a2a2a" stroke-width="0.55"/>
<rect x="296.30" y="137.75" width="4.00" height="18.85" fill="#f07c82" stroke="#5a2a2a" stroke-width="0.55"/>
<rect x="307.80" y="120.35" width="4.00" height="36.25" fill="#f07c82" stroke="#5a2a2a" stroke-width="0.55"/>
<rect x="318.80" y="98.60" width="4.00" height="58.00" fill="#f07c82" stroke="#5a2a2a" stroke-width="0.55"/>
<rect x="329.80" y="131.95" width="4.00" height="24.65" fill="#f07c82" stroke="#5a2a2a" stroke-width="0.55"/>
<rect x="340.90" y="146.45" width="4.00" height="10.15" fill="#f07c82" stroke="#5a2a2a" stroke-width="0.55"/>
<path d="M285.40,149.40 C286.50,149.47 289.73,149.77 292.00,149.80 C294.27,149.83 296.83,150.23 299.00,149.60 C301.17,148.97 303.17,147.10 305.00,146.00 C306.83,144.90 308.17,143.83 310.00,143.00 C311.83,142.17 314.17,141.43 316.00,141.00 C317.83,140.57 319.17,139.90 321.00,140.40 C322.83,140.90 325.00,142.63 327.00,144.00 C329.00,145.37 331.00,147.35 333.00,148.60 C335.00,149.85 337.00,150.68 339.00,151.50 C341.00,152.32 344.00,153.17 345.00,153.50" fill="none" stroke="#f01c1c" stroke-width="1.0"/>
<rect x="282.4" y="95.5" width="65.40000000000003" height="61.099999999999994" fill="none" stroke="#d0d0d0" stroke-width="0.6"/>
<text x="287.20" y="161.70" font-size="5.5" text-anchor="middle" fill="#222" style="stroke-width:0.1px">6</text>
<text x="299.20" y="161.70" font-size="5.5" text-anchor="middle" fill="#222" style="stroke-width:0.1px">7</text>
<text x="311.10" y="161.70" font-size="5.5" text-anchor="middle" fill="#222" style="stroke-width:0.1px">8</text>
<text x="323.20" y="161.70" font-size="5.5" text-anchor="middle" fill="#222" style="stroke-width:0.1px">9</text>
<text x="334.90" y="161.70" font-size="5.5" text-anchor="middle" fill="#222" style="stroke-width:0.1px">10</text>
<text x="281.50" y="158.30" font-size="5.5" text-anchor="end" fill="#222" style="stroke-width:0.1px">0</text>
<text x="281.50" y="151.05" font-size="5.5" text-anchor="end" fill="#222" style="stroke-width:0.1px">5</text>
<text x="281.50" y="143.80" font-size="5.5" text-anchor="end" fill="#222" style="stroke-width:0.1px">10</text>
<text x="281.50" y="136.55" font-size="5.5" text-anchor="end" fill="#222" style="stroke-width:0.1px">15</text>
<text x="281.50" y="129.30" font-size="5.5" text-anchor="end" fill="#222" style="stroke-width:0.1px">20</text>
<text x="281.50" y="122.05" font-size="5.5" text-anchor="end" fill="#222" style="stroke-width:0.1px">25</text>
<text x="281.50" y="114.80" font-size="5.5" text-anchor="end" fill="#222" style="stroke-width:0.1px">30</text>
<text x="281.50" y="107.55" font-size="5.5" text-anchor="end" fill="#222" style="stroke-width:0.1px">35</text>
<text x="281.50" y="100.30" font-size="5.5" text-anchor="end" fill="#222" style="stroke-width:0.1px">40</text>
<text x="315.10" y="94.80" font-size="5.7" text-anchor="middle" fill="#333" style="stroke-width:0.1px">STN PEAK</text>
<text x="315.20" y="167.40" font-size="5.7" text-anchor="middle" fill="#333" style="stroke-width:0.1px">FREQUENCY (HZ)</text>
<text x="0" y="0" font-size="5.4" text-anchor="middle" fill="#333" style="stroke-width:0.1px" transform="translate(273.6,125.2) rotate(-90)">COUNT</text>
<rect x="621.3" y="14.5" width="62.10000000000002" height="57.3" fill="#ffffff"/>
<line x1="625.5" y1="14.5" x2="625.5" y2="71.8" stroke="#e3e3e3" stroke-width="0.6"/>
<line x1="637.3" y1="14.5" x2="637.3" y2="71.8" stroke="#e3e3e3" stroke-width="0.6"/>
<line x1="648.5" y1="14.5" x2="648.5" y2="71.8" stroke="#e3e3e3" stroke-width="0.6"/>
<line x1="660.2" y1="14.5" x2="660.2" y2="71.8" stroke="#e3e3e3" stroke-width="0.6"/>
<line x1="671.8" y1="14.5" x2="671.8" y2="71.8" stroke="#e3e3e3" stroke-width="0.6"/>
<line x1="621.3" y1="71.8" x2="683.4" y2="71.8" stroke="#e3e3e3" stroke-width="0.6"/>
<line x1="621.3" y1="59.55" x2="683.4" y2="59.55" stroke="#e3e3e3" stroke-width="0.6"/>
<line x1="621.3" y1="47.3" x2="683.4" y2="47.3" stroke="#e3e3e3" stroke-width="0.6"/>
<line x1="621.3" y1="35.05" x2="683.4" y2="35.05" stroke="#e3e3e3" stroke-width="0.6"/>
<line x1="621.3" y1="22.799999999999997" x2="683.4" y2="22.799999999999997" stroke="#e3e3e3" stroke-width="0.6"/>
<rect x="623.85" y="62.00" width="3.80" height="9.80" fill="#f07c82" stroke="#5a2a2a" stroke-width="0.55"/>
<rect x="634.45" y="55.88" width="3.80" height="15.92" fill="#f07c82" stroke="#5a2a2a" stroke-width="0.55"/>
<rect x="645.20" y="38.72" width="3.80" height="33.08" fill="#f07c82" stroke="#5a2a2a" stroke-width="0.55"/>
<rect x="655.45" y="16.67" width="3.80" height="55.13" fill="#f07c82" stroke="#5a2a2a" stroke-width="0.55"/>
<rect x="666.05" y="50.97" width="3.80" height="20.83" fill="#f07c82" stroke="#5a2a2a" stroke-width="0.55"/>
<rect x="676.35" y="49.75" width="3.80" height="22.05" fill="#f07c82" stroke="#5a2a2a" stroke-width="0.55"/>
<path d="M624.00,68.50 C625.00,68.35 628.00,67.98 630.00,67.60 C632.00,67.22 634.00,66.90 636.00,66.20 C638.00,65.50 640.17,64.35 642.00,63.40 C643.83,62.45 645.33,61.40 647.00,60.50 C648.67,59.60 650.33,58.65 652.00,58.00 C653.67,57.35 655.33,56.43 657.00,56.60 C658.67,56.77 660.17,57.78 662.00,59.00 C663.83,60.22 666.17,62.87 668.00,63.90 C669.83,64.93 671.00,64.93 673.00,65.20 C675.00,65.47 678.83,65.45 680.00,65.50" fill="none" stroke="#f01c1c" stroke-width="1.0"/>
<rect x="621.3" y="14.5" width="62.10000000000002" height="57.3" fill="none" stroke="#d0d0d0" stroke-width="0.6"/>
<text x="625.50" y="77.20" font-size="5.2" text-anchor="middle" fill="#222" style="stroke-width:0.1px">6</text>
<text x="637.30" y="77.20" font-size="5.2" text-anchor="middle" fill="#222" style="stroke-width:0.1px">7</text>
<text x="648.50" y="77.20" font-size="5.2" text-anchor="middle" fill="#222" style="stroke-width:0.1px">8</text>
<text x="660.20" y="77.20" font-size="5.2" text-anchor="middle" fill="#222" style="stroke-width:0.1px">9</text>
<text x="671.80" y="77.20" font-size="5.2" text-anchor="middle" fill="#222" style="stroke-width:0.1px">10</text>
<text x="620.40" y="73.50" font-size="5.2" text-anchor="end" fill="#222" style="stroke-width:0.1px">0</text>
<text x="620.40" y="61.25" font-size="5.2" text-anchor="end" fill="#222" style="stroke-width:0.1px">10</text>
<text x="620.40" y="49.00" font-size="5.2" text-anchor="end" fill="#222" style="stroke-width:0.1px">20</text>
<text x="620.40" y="36.75" font-size="5.2" text-anchor="end" fill="#222" style="stroke-width:0.1px">30</text>
<text x="620.40" y="24.50" font-size="5.2" text-anchor="end" fill="#222" style="stroke-width:0.1px">40</text>
<text x="651.80" y="13.50" font-size="5.3" text-anchor="middle" fill="#333" style="stroke-width:0.1px">EEG PEAK</text>
<text x="651.70" y="81.90" font-size="5.3" text-anchor="middle" fill="#333" style="stroke-width:0.1px">FREQUENCY (HZ)</text>
<text x="0" y="0" font-size="5.0" text-anchor="middle" fill="#333" style="stroke-width:0.1px" transform="translate(613.4,43.8) rotate(-90)">COUNT</text>
<rect x="620.3" y="95.5" width="63.10000000000002" height="58.30000000000001" fill="#ffffff"/>
<line x1="625.4" y1="95.5" x2="625.4" y2="153.8" stroke="#e3e3e3" stroke-width="0.6"/>
<line x1="637.2" y1="95.5" x2="637.2" y2="153.8" stroke="#e3e3e3" stroke-width="0.6"/>
<line x1="648.6" y1="95.5" x2="648.6" y2="153.8" stroke="#e3e3e3" stroke-width="0.6"/>
<line x1="660.3" y1="95.5" x2="660.3" y2="153.8" stroke="#e3e3e3" stroke-width="0.6"/>
<line x1="671.5" y1="95.5" x2="671.5" y2="153.8" stroke="#e3e3e3" stroke-width="0.6"/>
<line x1="620.3" y1="153.8" x2="683.4" y2="153.8" stroke="#e3e3e3" stroke-width="0.6"/>
<line x1="620.3" y1="145.53" x2="683.4" y2="145.53" stroke="#e3e3e3" stroke-width="0.6"/>
<line x1="620.3" y1="137.26000000000002" x2="683.4" y2="137.26000000000002" stroke="#e3e3e3" stroke-width="0.6"/>
<line x1="620.3" y1="128.99" x2="683.4" y2="128.99" stroke="#e3e3e3" stroke-width="0.6"/>
<line x1="620.3" y1="120.72000000000001" x2="683.4" y2="120.72000000000001" stroke="#e3e3e3" stroke-width="0.6"/>
<line x1="620.3" y1="112.45000000000002" x2="683.4" y2="112.45000000000002" stroke="#e3e3e3" stroke-width="0.6"/>
<line x1="620.3" y1="104.18" x2="683.4" y2="104.18" stroke="#e3e3e3" stroke-width="0.6"/>
<rect x="623.55" y="135.61" width="3.80" height="18.19" fill="#f07c82" stroke="#5a2a2a" stroke-width="0.55"/>
<rect x="634.25" y="122.37" width="3.80" height="31.43" fill="#f07c82" stroke="#5a2a2a" stroke-width="0.55"/>
<rect x="644.95" y="99.22" width="3.80" height="54.58" fill="#f07c82" stroke="#5a2a2a" stroke-width="0.55"/>
<rect x="655.25" y="115.76" width="3.80" height="38.04" fill="#f07c82" stroke="#5a2a2a" stroke-width="0.55"/>
<rect x="666.20" y="130.64" width="3.80" height="23.16" fill="#f07c82" stroke="#5a2a2a" stroke-width="0.55"/>
<rect x="676.95" y="120.72" width="3.80" height="33.08" fill="#f07c82" stroke="#5a2a2a" stroke-width="0.55"/>
<path d="M624.00,149.00 C625.00,148.50 628.00,147.03 630.00,146.00 C632.00,144.97 634.00,143.83 636.00,142.80 C638.00,141.77 640.17,140.55 642.00,139.80 C643.83,139.05 645.33,138.43 647.00,138.30 C648.67,138.17 650.33,138.47 652.00,139.00 C653.67,139.53 655.33,140.67 657.00,141.50 C658.67,142.33 660.17,143.37 662.00,144.00 C663.83,144.63 666.00,145.05 668.00,145.30 C670.00,145.55 672.00,145.50 674.00,145.50 C676.00,145.50 679.00,145.33 680.00,145.30" fill="none" stroke="#f01c1c" stroke-width="1.0"/>
<rect x="620.3" y="95.5" width="63.10000000000002" height="58.30000000000001" fill="none" stroke="#d0d0d0" stroke-width="0.6"/>
<text x="625.40" y="159.00" font-size="5.2" text-anchor="middle" fill="#222" style="stroke-width:0.1px">6</text>
<text x="637.20" y="159.00" font-size="5.2" text-anchor="middle" fill="#222" style="stroke-width:0.1px">7</text>
<text x="648.60" y="159.00" font-size="5.2" text-anchor="middle" fill="#222" style="stroke-width:0.1px">8</text>
<text x="660.30" y="159.00" font-size="5.2" text-anchor="middle" fill="#222" style="stroke-width:0.1px">9</text>
<text x="671.50" y="159.00" font-size="5.2" text-anchor="middle" fill="#222" style="stroke-width:0.1px">10</text>
<text x="619.40" y="155.50" font-size="5.2" text-anchor="end" fill="#222" style="stroke-width:0.1px">0</text>
<text x="619.40" y="147.23" font-size="5.2" text-anchor="end" fill="#222" style="stroke-width:0.1px">5</text>
<text x="619.40" y="138.96" font-size="5.2" text-anchor="end" fill="#222" style="stroke-width:0.1px">10</text>
<text x="619.40" y="130.69" font-size="5.2" text-anchor="end" fill="#222" style="stroke-width:0.1px">15</text>
<text x="619.40" y="122.42" font-size="5.2" text-anchor="end" fill="#222" style="stroke-width:0.1px">20</text>
<text x="619.40" y="114.15" font-size="5.2" text-anchor="end" fill="#222" style="stroke-width:0.1px">25</text>
<text x="619.40" y="105.88" font-size="5.2" text-anchor="end" fill="#222" style="stroke-width:0.1px">30</text>
<text x="652.00" y="94.60" font-size="5.3" text-anchor="middle" fill="#333" style="stroke-width:0.1px">GPI PEAK</text>
<text x="652.00" y="164.60" font-size="5.3" text-anchor="middle" fill="#333" style="stroke-width:0.1px">FREQUENCY (HZ)</text>
<text x="0" y="0" font-size="5.0" text-anchor="middle" fill="#333" style="stroke-width:0.1px" transform="translate(613.4,124.8) rotate(-90)">COUNT</text>
<text x="259.30" y="13.10" font-size="17.5" text-anchor="start" fill="#111" >B</text>
<text x="603.80" y="13.10" font-size="17.5" text-anchor="start" fill="#111" >D</text>
<rect x="35.5" y="196.2" width="311.0" height="165.0" fill="#ffffff" stroke="#dedede" stroke-width="0.7"/>
<line x1="35.5" y1="328.20" x2="346.5" y2="328.20" stroke="#e6e6e6" stroke-width="0.6" stroke-dasharray="1.6,1.2"/>
<line x1="35.5" y1="295.20" x2="346.5" y2="295.20" stroke="#e6e6e6" stroke-width="0.6" stroke-dasharray="1.6,1.2"/>
<line x1="35.5" y1="262.20" x2="346.5" y2="262.20" stroke="#e6e6e6" stroke-width="0.6" stroke-dasharray="1.6,1.2"/>
<line x1="35.5" y1="229.20" x2="346.5" y2="229.20" stroke="#e6e6e6" stroke-width="0.6" stroke-dasharray="1.6,1.2"/>
<rect x="43.70" y="319.00" width="19.93" height="42.20" fill="#7474f6"/>
<rect x="64.43" y="305.00" width="19.93" height="56.20" fill="#e6737a"/>
<rect x="85.17" y="309.30" width="19.93" height="51.90" fill="#76b276"/>
<rect x="121.45" y="340.00" width="19.93" height="21.20" fill="#7474f6"/>
<rect x="142.18" y="337.60" width="19.93" height="23.60" fill="#e6737a"/>
<rect x="162.92" y="335.30" width="19.93" height="25.90" fill="#76b276"/>
<rect x="199.20" y="345.70" width="19.93" height="15.50" fill="#7474f6"/>
<rect x="219.93" y="337.00" width="19.93" height="24.20" fill="#e6737a"/>
<rect x="240.67" y="342.00" width="19.93" height="19.20" fill="#76b276"/>
<rect x="276.95" y="319.00" width="19.93" height="42.20" fill="#7474f6"/>
<rect x="297.68" y="318.00" width="19.93" height="43.20" fill="#e6737a"/>
<rect x="318.42" y="340.30" width="19.93" height="20.90" fill="#76b276"/>
<line x1="53.67" y1="306.5" x2="53.67" y2="330.5" stroke="#262626" stroke-width="1"/>
<line x1="51.67" y1="306.5" x2="55.67" y2="306.5" stroke="#262626" stroke-width="1"/>
<line x1="51.67" y1="330.5" x2="55.67" y2="330.5" stroke="#262626" stroke-width="1"/>
<line x1="74.40" y1="282.2" x2="74.40" y2="327.3" stroke="#262626" stroke-width="1"/>
<line x1="72.40" y1="282.2" x2="76.40" y2="282.2" stroke="#262626" stroke-width="1"/>
<line x1="72.40" y1="327.3" x2="76.40" y2="327.3" stroke="#262626" stroke-width="1"/>
<line x1="95.13" y1="287.4" x2="95.13" y2="330.5" stroke="#262626" stroke-width="1"/>
<line x1="93.13" y1="287.4" x2="97.13" y2="287.4" stroke="#262626" stroke-width="1"/>
<line x1="93.13" y1="330.5" x2="97.13" y2="330.5" stroke="#262626" stroke-width="1"/>
<line x1="131.42" y1="333.1" x2="131.42" y2="344" stroke="#262626" stroke-width="1"/>
<line x1="129.42" y1="333.1" x2="133.42" y2="333.1" stroke="#262626" stroke-width="1"/>
<line x1="129.42" y1="344" x2="133.42" y2="344" stroke="#262626" stroke-width="1"/>
<line x1="152.15" y1="329.7" x2="152.15" y2="345.7" stroke="#262626" stroke-width="1"/>
<line x1="150.15" y1="329.7" x2="154.15" y2="329.7" stroke="#262626" stroke-width="1"/>
<line x1="150.15" y1="345.7" x2="154.15" y2="345.7" stroke="#262626" stroke-width="1"/>
<line x1="172.88" y1="325" x2="172.88" y2="346.2" stroke="#262626" stroke-width="1"/>
<line x1="170.88" y1="325" x2="174.88" y2="325" stroke="#262626" stroke-width="1"/>
<line x1="170.88" y1="346.2" x2="174.88" y2="346.2" stroke="#262626" stroke-width="1"/>
<line x1="209.17" y1="340.4" x2="209.17" y2="352" stroke="#262626" stroke-width="1"/>
<line x1="207.17" y1="340.4" x2="211.17" y2="340.4" stroke="#262626" stroke-width="1"/>
<line x1="207.17" y1="352" x2="211.17" y2="352" stroke="#262626" stroke-width="1"/>
<line x1="229.90" y1="323" x2="229.90" y2="350" stroke="#262626" stroke-width="1"/>
<line x1="227.90" y1="323" x2="231.90" y2="323" stroke="#262626" stroke-width="1"/>
<line x1="227.90" y1="350" x2="231.90" y2="350" stroke="#262626" stroke-width="1"/>
<line x1="250.63" y1="330.4" x2="250.63" y2="352.8" stroke="#262626" stroke-width="1"/>
<line x1="248.63" y1="330.4" x2="252.63" y2="330.4" stroke="#262626" stroke-width="1"/>
<line x1="248.63" y1="352.8" x2="252.63" y2="352.8" stroke="#262626" stroke-width="1"/>
<line x1="286.92" y1="292.1" x2="286.92" y2="345.5" stroke="#262626" stroke-width="1"/>
<line x1="284.92" y1="292.1" x2="288.92" y2="292.1" stroke="#262626" stroke-width="1"/>
<line x1="284.92" y1="345.5" x2="288.92" y2="345.5" stroke="#262626" stroke-width="1"/>
<line x1="307.65" y1="294.5" x2="307.65" y2="340.5" stroke="#262626" stroke-width="1"/>
<line x1="305.65" y1="294.5" x2="309.65" y2="294.5" stroke="#262626" stroke-width="1"/>
<line x1="305.65" y1="340.5" x2="309.65" y2="340.5" stroke="#262626" stroke-width="1"/>
<line x1="328.38" y1="324.8" x2="328.38" y2="355.3" stroke="#262626" stroke-width="1"/>
<line x1="326.38" y1="324.8" x2="330.38" y2="324.8" stroke="#262626" stroke-width="1"/>
<line x1="326.38" y1="355.3" x2="330.38" y2="355.3" stroke="#262626" stroke-width="1"/>
<circle cx="51.5" cy="292.1" r="1.85" fill="#1414f0" fill-opacity="0.66"/>
<circle cx="55.2" cy="302.3" r="1.85" fill="#1414f0" fill-opacity="0.66"/>
<circle cx="52.6" cy="303.8" r="1.85" fill="#1414f0" fill-opacity="0.66"/>
<circle cx="51.1" cy="306.9" r="1.85" fill="#1414f0" fill-opacity="0.66"/>
<circle cx="53.4" cy="314.3" r="1.85" fill="#1414f0" fill-opacity="0.66"/>
<circle cx="51.5" cy="317.1" r="1.85" fill="#1414f0" fill-opacity="0.66"/>
<circle cx="53.9" cy="319.9" r="1.85" fill="#1414f0" fill-opacity="0.66"/>
<circle cx="55.8" cy="320.5" r="1.85" fill="#1414f0" fill-opacity="0.66"/>
<circle cx="55.2" cy="322.7" r="1.85" fill="#1414f0" fill-opacity="0.66"/>
<circle cx="52.1" cy="324.6" r="1.85" fill="#1414f0" fill-opacity="0.66"/>
<circle cx="56.3" cy="327.9" r="1.85" fill="#1414f0" fill-opacity="0.66"/>
<circle cx="54.9" cy="331.1" r="1.85" fill="#1414f0" fill-opacity="0.66"/>
<circle cx="54.5" cy="345" r="1.85" fill="#1414f0" fill-opacity="0.66"/>
<circle cx="75.7" cy="246" r="1.85" fill="#f01414" fill-opacity="0.66"/>
<circle cx="75.2" cy="269.6" r="1.85" fill="#f01414" fill-opacity="0.66"/>
<circle cx="76.6" cy="282.8" r="1.85" fill="#f01414" fill-opacity="0.66"/>
<circle cx="76.2" cy="287.4" r="1.85" fill="#f01414" fill-opacity="0.66"/>
<circle cx="74.3" cy="291.5" r="1.85" fill="#f01414" fill-opacity="0.66"/>
<circle cx="76.2" cy="299.5" r="1.85" fill="#f01414" fill-opacity="0.66"/>
<circle cx="72.5" cy="300.4" r="1.85" fill="#f01414" fill-opacity="0.66"/>
<circle cx="73.4" cy="307.5" r="1.85" fill="#f01414" fill-opacity="0.66"/>
<circle cx="76.2" cy="310.6" r="1.85" fill="#f01414" fill-opacity="0.66"/>
<circle cx="73" cy="313" r="1.85" fill="#f01414" fill-opacity="0.66"/>
<circle cx="74.3" cy="313.4" r="1.85" fill="#f01414" fill-opacity="0.66"/>
<circle cx="76.6" cy="317.1" r="1.85" fill="#f01414" fill-opacity="0.66"/>
<circle cx="73" cy="324.6" r="1.85" fill="#f01414" fill-opacity="0.66"/>
<circle cx="76.8" cy="327.3" r="1.85" fill="#f01414" fill-opacity="0.66"/>
<circle cx="75.6" cy="332.4" r="1.85" fill="#f01414" fill-opacity="0.66"/>
<circle cx="72.5" cy="336.6" r="1.85" fill="#f01414" fill-opacity="0.66"/>
<circle cx="95.6" cy="261.5" r="1.85" fill="#1a8a1a" fill-opacity="0.66"/>
<circle cx="93.3" cy="277.3" r="1.85" fill="#1a8a1a" fill-opacity="0.66"/>
<circle cx="96.6" cy="279.2" r="1.85" fill="#1a8a1a" fill-opacity="0.66"/>
<circle cx="97.9" cy="285.6" r="1.85" fill="#1a8a1a" fill-opacity="0.66"/>
<circle cx="96.6" cy="294.9" r="1.85" fill="#1a8a1a" fill-opacity="0.66"/>
<circle cx="93.5" cy="303.8" r="1.85" fill="#1a8a1a" fill-opacity="0.66"/>
<circle cx="97.6" cy="305" r="1.85" fill="#1a8a1a" fill-opacity="0.66"/>
<circle cx="95.7" cy="314.3" r="1.85" fill="#1a8a1a" fill-opacity="0.66"/>
<circle cx="94.2" cy="317.1" r="1.85" fill="#1a8a1a" fill-opacity="0.66"/>
<circle cx="97.6" cy="318.1" r="1.85" fill="#1a8a1a" fill-opacity="0.66"/>
<circle cx="93.8" cy="323.1" r="1.85" fill="#1a8a1a" fill-opacity="0.66"/>
<circle cx="95.7" cy="330.1" r="1.85" fill="#1a8a1a" fill-opacity="0.66"/>
<circle cx="93.8" cy="332.9" r="1.85" fill="#1a8a1a" fill-opacity="0.66"/>
<circle cx="95.3" cy="333.5" r="1.85" fill="#1a8a1a" fill-opacity="0.66"/>
<circle cx="96.1" cy="337.6" r="1.85" fill="#1a8a1a" fill-opacity="0.66"/>
<circle cx="131.5" cy="328.1" r="1.85" fill="#1414f0" fill-opacity="0.66"/>
<circle cx="132.5" cy="331.1" r="1.85" fill="#1414f0" fill-opacity="0.66"/>
<circle cx="131.5" cy="335.9" r="1.85" fill="#1414f0" fill-opacity="0.66"/>
<circle cx="130.4" cy="338.3" r="1.85" fill="#1414f0" fill-opacity="0.66"/>
<circle cx="130.1" cy="340.6" r="1.85" fill="#1414f0" fill-opacity="0.66"/>
<circle cx="130.9" cy="341.8" r="1.85" fill="#1414f0" fill-opacity="0.66"/>
<circle cx="129.2" cy="343.6" r="1.85" fill="#1414f0" fill-opacity="0.66"/>
<circle cx="131.5" cy="344.2" r="1.85" fill="#1414f0" fill-opacity="0.66"/>
<circle cx="132.7" cy="342.4" r="1.85" fill="#1414f0" fill-opacity="0.66"/>
<circle cx="130.6" cy="346.3" r="1.85" fill="#1414f0" fill-opacity="0.66"/>
<circle cx="132.1" cy="346.6" r="1.85" fill="#1414f0" fill-opacity="0.66"/>
<circle cx="133.7" cy="352" r="1.85" fill="#1414f0" fill-opacity="0.66"/>
<circle cx="154.2" cy="319.8" r="1.85" fill="#f01414" fill-opacity="0.66"/>
<circle cx="150.4" cy="325.5" r="1.85" fill="#f01414" fill-opacity="0.66"/>
<circle cx="150" cy="329.9" r="1.85" fill="#f01414" fill-opacity="0.66"/>
<circle cx="153.6" cy="332.3" r="1.85" fill="#f01414" fill-opacity="0.66"/>
<circle cx="151.8" cy="334.7" r="1.85" fill="#f01414" fill-opacity="0.66"/>
<circle cx="150.6" cy="340" r="1.85" fill="#f01414" fill-opacity="0.66"/>
<circle cx="154.2" cy="340.6" r="1.85" fill="#f01414" fill-opacity="0.66"/>
<circle cx="151.8" cy="342.4" r="1.85" fill="#f01414" fill-opacity="0.66"/>
<circle cx="149.7" cy="344.8" r="1.85" fill="#f01414" fill-opacity="0.66"/>
<circle cx="153.6" cy="343.6" r="1.85" fill="#f01414" fill-opacity="0.66"/>
<circle cx="153.6" cy="347.2" r="1.85" fill="#f01414" fill-opacity="0.66"/>
<circle cx="173.2" cy="304.1" r="1.85" fill="#1a8a1a" fill-opacity="0.66"/>
<circle cx="172.1" cy="326.3" r="1.85" fill="#1a8a1a" fill-opacity="0.66"/>
<circle cx="170.3" cy="329.3" r="1.85" fill="#1a8a1a" fill-opacity="0.66"/>
<circle cx="173.3" cy="329.9" r="1.85" fill="#1a8a1a" fill-opacity="0.66"/>
<circle cx="172.7" cy="334.1" r="1.85" fill="#1a8a1a" fill-opacity="0.66"/>
<circle cx="171.1" cy="338.9" r="1.85" fill="#1a8a1a" fill-opacity="0.66"/>
<circle cx="174.5" cy="337.7" r="1.85" fill="#1a8a1a" fill-opacity="0.66"/>
<circle cx="175.1" cy="340.6" r="1.85" fill="#1a8a1a" fill-opacity="0.66"/>
<circle cx="172.1" cy="342.4" r="1.85" fill="#1a8a1a" fill-opacity="0.66"/>
<circle cx="170.3" cy="346" r="1.85" fill="#1a8a1a" fill-opacity="0.66"/>
<circle cx="173.3" cy="346.3" r="1.85" fill="#1a8a1a" fill-opacity="0.66"/>
<circle cx="208" cy="331.4" r="1.85" fill="#1414f0" fill-opacity="0.66"/>
<circle cx="207.2" cy="339.8" r="1.85" fill="#1414f0" fill-opacity="0.66"/>
<circle cx="209.5" cy="343" r="1.85" fill="#1414f0" fill-opacity="0.66"/>
<circle cx="210.8" cy="344.6" r="1.85" fill="#1414f0" fill-opacity="0.66"/>
<circle cx="207.2" cy="347" r="1.85" fill="#1414f0" fill-opacity="0.66"/>
<circle cx="208.8" cy="347.7" r="1.85" fill="#1414f0" fill-opacity="0.66"/>
<circle cx="209.5" cy="350.1" r="1.85" fill="#1414f0" fill-opacity="0.66"/>
<circle cx="207.6" cy="350.9" r="1.85" fill="#1414f0" fill-opacity="0.66"/>
<circle cx="211.1" cy="356.5" r="1.85" fill="#1414f0" fill-opacity="0.66"/>
<circle cx="206.4" cy="344.6" r="1.85" fill="#1414f0" fill-opacity="0.66"/>
<circle cx="231.8" cy="305.6" r="1.85" fill="#f01414" fill-opacity="0.66"/>
<circle cx="229.4" cy="316.7" r="1.85" fill="#f01414" fill-opacity="0.66"/>
<circle cx="230.6" cy="316.7" r="1.85" fill="#f01414" fill-opacity="0.66"/>
<circle cx="231" cy="327.1" r="1.85" fill="#f01414" fill-opacity="0.66"/>
<circle cx="229.4" cy="331.8" r="1.85" fill="#f01414" fill-opacity="0.66"/>
<circle cx="231.8" cy="337.4" r="1.85" fill="#f01414" fill-opacity="0.66"/>
<circle cx="228.6" cy="340.6" r="1.85" fill="#f01414" fill-opacity="0.66"/>
<circle cx="231" cy="342.2" r="1.85" fill="#f01414" fill-opacity="0.66"/>
<circle cx="229.4" cy="345.4" r="1.85" fill="#f01414" fill-opacity="0.66"/>
<circle cx="231" cy="346.2" r="1.85" fill="#f01414" fill-opacity="0.66"/>
<circle cx="227.9" cy="347.7" r="1.85" fill="#f01414" fill-opacity="0.66"/>
<circle cx="229.9" cy="352.5" r="1.85" fill="#f01414" fill-opacity="0.66"/>
<circle cx="229.4" cy="354.1" r="1.85" fill="#f01414" fill-opacity="0.66"/>
<circle cx="253.3" cy="313.5" r="1.85" fill="#1a8a1a" fill-opacity="0.66"/>
<circle cx="252.8" cy="315.9" r="1.85" fill="#1a8a1a" fill-opacity="0.66"/>
<circle cx="251.7" cy="331.8" r="1.85" fill="#1a8a1a" fill-opacity="0.66"/>
<circle cx="251.2" cy="338.2" r="1.85" fill="#1a8a1a" fill-opacity="0.66"/>
<circle cx="250.1" cy="340.6" r="1.85" fill="#1a8a1a" fill-opacity="0.66"/>
<circle cx="249.3" cy="344.6" r="1.85" fill="#1a8a1a" fill-opacity="0.66"/>
<circle cx="250.9" cy="347.7" r="1.85" fill="#1a8a1a" fill-opacity="0.66"/>
<circle cx="248.5" cy="350.9" r="1.85" fill="#1a8a1a" fill-opacity="0.66"/>
<circle cx="251.7" cy="351.7" r="1.85" fill="#1a8a1a" fill-opacity="0.66"/>
<circle cx="249.3" cy="354.9" r="1.85" fill="#1a8a1a" fill-opacity="0.66"/>
<circle cx="288.3" cy="261.3" r="1.85" fill="#1414f0" fill-opacity="0.66"/>
<circle cx="285.3" cy="265.4" r="1.85" fill="#1414f0" fill-opacity="0.66"/>
<circle cx="285.3" cy="280.3" r="1.85" fill="#1414f0" fill-opacity="0.66"/>
<circle cx="286.2" cy="301.6" r="1.85" fill="#1414f0" fill-opacity="0.66"/>
<circle cx="288.8" cy="305" r="1.85" fill="#1414f0" fill-opacity="0.66"/>
<circle cx="289.7" cy="307.9" r="1.85" fill="#1414f0" fill-opacity="0.66"/>
<circle cx="285.3" cy="320.9" r="1.85" fill="#1414f0" fill-opacity="0.66"/>
<circle cx="286.2" cy="323.4" r="1.85" fill="#1414f0" fill-opacity="0.66"/>
<circle cx="284.5" cy="326" r="1.85" fill="#1414f0" fill-opacity="0.66"/>
<circle cx="287.1" cy="328.6" r="1.85" fill="#1414f0" fill-opacity="0.66"/>
<circle cx="285.3" cy="333.8" r="1.85" fill="#1414f0" fill-opacity="0.66"/>
<circle cx="288.8" cy="334.3" r="1.85" fill="#1414f0" fill-opacity="0.66"/>
<circle cx="284.5" cy="337.2" r="1.85" fill="#1414f0" fill-opacity="0.66"/>
<circle cx="286.2" cy="339" r="1.85" fill="#1414f0" fill-opacity="0.66"/>
<circle cx="287.1" cy="340.2" r="1.85" fill="#1414f0" fill-opacity="0.66"/>
<circle cx="288.8" cy="346.4" r="1.85" fill="#1414f0" fill-opacity="0.66"/>
<circle cx="285" cy="350.2" r="1.85" fill="#1414f0" fill-opacity="0.66"/>
<circle cx="309.1" cy="252.4" r="1.85" fill="#f01414" fill-opacity="0.66"/>
<circle cx="310" cy="293" r="1.85" fill="#f01414" fill-opacity="0.66"/>
<circle cx="310.3" cy="295" r="1.85" fill="#f01414" fill-opacity="0.66"/>
<circle cx="307.8" cy="298.4" r="1.85" fill="#f01414" fill-opacity="0.66"/>
<circle cx="306.9" cy="301.9" r="1.85" fill="#f01414" fill-opacity="0.66"/>
<circle cx="307.4" cy="313.1" r="1.85" fill="#f01414" fill-opacity="0.66"/>
<circle cx="310.3" cy="318.3" r="1.85" fill="#f01414" fill-opacity="0.66"/>
<circle cx="306.9" cy="322.6" r="1.85" fill="#f01414" fill-opacity="0.66"/>
<circle cx="308.6" cy="323.4" r="1.85" fill="#f01414" fill-opacity="0.66"/>
<circle cx="309.1" cy="326" r="1.85" fill="#f01414" fill-opacity="0.66"/>
<circle cx="306.9" cy="327.8" r="1.85" fill="#f01414" fill-opacity="0.66"/>
<circle cx="309.5" cy="331.2" r="1.85" fill="#f01414" fill-opacity="0.66"/>
<circle cx="310.3" cy="344.1" r="1.85" fill="#f01414" fill-opacity="0.66"/>
<circle cx="307.8" cy="346.7" r="1.85" fill="#f01414" fill-opacity="0.66"/>
<circle cx="309.5" cy="351" r="1.85" fill="#f01414" fill-opacity="0.66"/>
<circle cx="326" cy="290.9" r="1.85" fill="#1a8a1a" fill-opacity="0.66"/>
<circle cx="325.9" cy="330.3" r="1.85" fill="#1a8a1a" fill-opacity="0.66"/>
<circle cx="329.8" cy="331.2" r="1.85" fill="#1a8a1a" fill-opacity="0.66"/>
<circle cx="326.7" cy="335.5" r="1.85" fill="#1a8a1a" fill-opacity="0.66"/>
<circle cx="328.1" cy="336.4" r="1.85" fill="#1a8a1a" fill-opacity="0.66"/>
<circle cx="325.9" cy="342.4" r="1.85" fill="#1a8a1a" fill-opacity="0.66"/>
<circle cx="330.2" cy="345.9" r="1.85" fill="#1a8a1a" fill-opacity="0.66"/>
<circle cx="326.7" cy="349.3" r="1.85" fill="#1a8a1a" fill-opacity="0.66"/>
<circle cx="328.4" cy="351.9" r="1.85" fill="#1a8a1a" fill-opacity="0.66"/>
<circle cx="326.7" cy="355.3" r="1.85" fill="#1a8a1a" fill-opacity="0.66"/>
<line x1="52.1" y1="233.4" x2="76" y2="233.4" stroke="#111" stroke-width="1.4"/>
<path d="M58.80,226.35L58.80,229.85M57.28,227.22L60.32,228.97M57.28,228.97L60.32,227.22" stroke="#454545" stroke-width="1.0" stroke-linecap="round" fill="none"/>
<circle cx="58.80" cy="228.10" r="0.8" fill="#444"/>
<path d="M64.30,226.35L64.30,229.85M62.78,227.22L65.82,228.97M62.78,228.97L65.82,227.22" stroke="#454545" stroke-width="1.0" stroke-linecap="round" fill="none"/>
<circle cx="64.30" cy="228.10" r="0.8" fill="#444"/>
<path d="M69.80,226.35L69.80,229.85M68.28,227.22L71.32,228.97M68.28,228.97L71.32,227.22" stroke="#454545" stroke-width="1.0" stroke-linecap="round" fill="none"/>
<circle cx="69.80" cy="228.10" r="0.8" fill="#444"/>
<line x1="207.4" y1="289.8" x2="230.9" y2="289.8" stroke="#111" stroke-width="1.4"/>
<path d="M216.35,283.65L216.35,287.15M214.83,284.52L217.87,286.27M214.83,286.27L217.87,284.52" stroke="#454545" stroke-width="1.0" stroke-linecap="round" fill="none"/>
<circle cx="216.35" cy="285.40" r="0.8" fill="#444"/>
<path d="M221.85,283.65L221.85,287.15M220.33,284.52L223.37,286.27M220.33,286.27L223.37,284.52" stroke="#454545" stroke-width="1.0" stroke-linecap="round" fill="none"/>
<circle cx="221.85" cy="285.40" r="0.8" fill="#444"/>
<line x1="287.6" y1="222.5" x2="330.6" y2="222.5" stroke="#111" stroke-width="1.4"/>
<path d="M304.20,216.45L304.20,219.95M302.68,217.32L305.72,219.07M302.68,219.07L305.72,217.32" stroke="#454545" stroke-width="1.0" stroke-linecap="round" fill="none"/>
<circle cx="304.20" cy="218.20" r="0.8" fill="#444"/>
<path d="M309.70,216.45L309.70,219.95M308.18,217.32L311.22,219.07M308.18,219.07L311.22,217.32" stroke="#454545" stroke-width="1.0" stroke-linecap="round" fill="none"/>
<circle cx="309.70" cy="218.20" r="0.8" fill="#444"/>
<path d="M315.20,216.45L315.20,219.95M313.68,217.32L316.72,219.07M313.68,219.07L316.72,217.32" stroke="#454545" stroke-width="1.0" stroke-linecap="round" fill="none"/>
<circle cx="315.20" cy="218.20" r="0.8" fill="#444"/>
<line x1="306.7" y1="234.6" x2="330.1" y2="234.6" stroke="#111" stroke-width="1.4"/>
<path d="M313.00,227.95L313.00,231.45M311.48,228.82L314.52,230.57M311.48,230.57L314.52,228.82" stroke="#454545" stroke-width="1.0" stroke-linecap="round" fill="none"/>
<circle cx="313.00" cy="229.70" r="0.8" fill="#444"/>
<path d="M318.50,227.95L318.50,231.45M316.98,228.82L320.02,230.57M316.98,230.57L320.02,228.82" stroke="#454545" stroke-width="1.0" stroke-linecap="round" fill="none"/>
<circle cx="318.50" cy="229.70" r="0.8" fill="#444"/>
<path d="M324.00,227.95L324.00,231.45M322.48,228.82L325.52,230.57M322.48,230.57L325.52,228.82" stroke="#454545" stroke-width="1.0" stroke-linecap="round" fill="none"/>
<circle cx="324.00" cy="229.70" r="0.8" fill="#444"/>
<rect x="109.5" y="200.3" width="232.7" height="13.899999999999977" rx="2" fill="#ffffff" fill-opacity="0.85" stroke="#e2e2e2" stroke-width="0.7"/>
<rect x="114.8" y="204.1" width="15.600000000000009" height="5.099999999999994" fill="#7474f6"/>
<text x="136.20" y="209.80" font-size="11.2" text-anchor="start" fill="#262626" >OPEN</text>
<rect x="198.1" y="204.1" width="15.800000000000011" height="5.099999999999994" fill="#e6737a"/>
<text x="218.40" y="209.80" font-size="11.2" text-anchor="start" fill="#262626" >CLOSE</text>
<rect x="286.5" y="204.1" width="15.399999999999977" height="5.099999999999994" fill="#76b276"/>
<text x="303.60" y="209.80" font-size="11.2" text-anchor="start" fill="#262626" >SLEEP</text>
<text x="30.90" y="365.00" font-size="11" text-anchor="end" fill="#262626" >0.0</text>
<text x="30.90" y="332.00" font-size="11" text-anchor="end" fill="#262626" >0.1</text>
<text x="30.90" y="299.00" font-size="11" text-anchor="end" fill="#262626" >0.2</text>
<text x="30.90" y="266.00" font-size="11" text-anchor="end" fill="#262626" >0.3</text>
<text x="30.90" y="233.00" font-size="11" text-anchor="end" fill="#262626" >0.4</text>
<text x="30.90" y="200.00" font-size="11" text-anchor="end" fill="#262626" >0.5</text>
<text x="75.40" y="373.00" font-size="10.8" text-anchor="middle" fill="#262626" >LOWFREQ</text>
<text x="153.15" y="373.00" font-size="10.8" text-anchor="middle" fill="#262626" >THETA</text>
<text x="230.90" y="373.00" font-size="10.8" text-anchor="middle" fill="#262626" >ALPHA</text>
<text x="308.65" y="373.00" font-size="10.8" text-anchor="middle" fill="#262626" >BETA</text>
<text x="0" y="0" font-size="11" text-anchor="middle" fill="#262626" transform="translate(13.8,278) rotate(-90)">SUM POWER (A.U.)</text>
<text x="1.00" y="185.30" font-size="17.5" text-anchor="start" fill="#111" >E</text>
<rect x="382.7" y="195.0" width="288.40000000000003" height="166.10000000000002" fill="#ffffff" stroke="#dedede" stroke-width="0.7"/>
<line x1="382.7" y1="335.50" x2="671.1" y2="335.50" stroke="#e6e6e6" stroke-width="0.6" stroke-dasharray="1.6,1.2"/>
<line x1="382.7" y1="309.90" x2="671.1" y2="309.90" stroke="#e6e6e6" stroke-width="0.6" stroke-dasharray="1.6,1.2"/>
<line x1="382.7" y1="284.30" x2="671.1" y2="284.30" stroke="#e6e6e6" stroke-width="0.6" stroke-dasharray="1.6,1.2"/>
<line x1="382.7" y1="258.70" x2="671.1" y2="258.70" stroke="#e6e6e6" stroke-width="0.6" stroke-dasharray="1.6,1.2"/>
<line x1="382.7" y1="233.10" x2="671.1" y2="233.10" stroke="#e6e6e6" stroke-width="0.6" stroke-dasharray="1.6,1.2"/>
<line x1="382.7" y1="207.50" x2="671.1" y2="207.50" stroke="#e6e6e6" stroke-width="0.6" stroke-dasharray="1.6,1.2"/>
<rect x="390.26" y="327.80" width="18.43" height="33.30" fill="#7474f6"/>
<rect x="409.49" y="315.40" width="18.43" height="45.70" fill="#e6737a"/>
<rect x="428.71" y="322.20" width="18.43" height="38.90" fill="#76b276"/>
<rect x="462.36" y="345.60" width="18.43" height="15.50" fill="#7474f6"/>
<rect x="481.59" y="340.20" width="18.43" height="20.90" fill="#e6737a"/>
<rect x="500.81" y="341.50" width="18.43" height="19.60" fill="#76b276"/>
<rect x="534.46" y="348.40" width="18.43" height="12.70" fill="#7474f6"/>
<rect x="553.69" y="345.00" width="18.43" height="16.10" fill="#e6737a"/>
<rect x="572.91" y="348.00" width="18.43" height="13.10" fill="#76b276"/>
<rect x="606.56" y="327.70" width="18.43" height="33.40" fill="#7474f6"/>
<rect x="625.79" y="326.20" width="18.43" height="34.90" fill="#e6737a"/>
<rect x="645.01" y="343.70" width="18.43" height="17.40" fill="#76b276"/>
<line x1="399.47" y1="312.7" x2="399.47" y2="340.7" stroke="#262626" stroke-width="1"/>
<line x1="397.47" y1="312.7" x2="401.47" y2="312.7" stroke="#262626" stroke-width="1"/>
<line x1="397.47" y1="340.7" x2="401.47" y2="340.7" stroke="#262626" stroke-width="1"/>
<line x1="418.70" y1="287.6" x2="418.70" y2="342.4" stroke="#262626" stroke-width="1"/>
<line x1="416.70" y1="287.6" x2="420.70" y2="287.6" stroke="#262626" stroke-width="1"/>
<line x1="416.70" y1="342.4" x2="420.70" y2="342.4" stroke="#262626" stroke-width="1"/>
<line x1="437.93" y1="304.6" x2="437.93" y2="339.5" stroke="#262626" stroke-width="1"/>
<line x1="435.93" y1="304.6" x2="439.93" y2="304.6" stroke="#262626" stroke-width="1"/>
<line x1="435.93" y1="339.5" x2="439.93" y2="339.5" stroke="#262626" stroke-width="1"/>
<line x1="471.57" y1="339" x2="471.57" y2="351" stroke="#262626" stroke-width="1"/>
<line x1="469.57" y1="339" x2="473.57" y2="339" stroke="#262626" stroke-width="1"/>
<line x1="469.57" y1="351" x2="473.57" y2="351" stroke="#262626" stroke-width="1"/>
<line x1="490.80" y1="328.5" x2="490.80" y2="351.2" stroke="#262626" stroke-width="1"/>
<line x1="488.80" y1="328.5" x2="492.80" y2="328.5" stroke="#262626" stroke-width="1"/>
<line x1="488.80" y1="351.2" x2="492.80" y2="351.2" stroke="#262626" stroke-width="1"/>
<line x1="510.03" y1="332.9" x2="510.03" y2="350.5" stroke="#262626" stroke-width="1"/>
<line x1="508.03" y1="332.9" x2="512.03" y2="332.9" stroke="#262626" stroke-width="1"/>
<line x1="508.03" y1="350.5" x2="512.03" y2="350.5" stroke="#262626" stroke-width="1"/>
<line x1="543.67" y1="336.9" x2="543.67" y2="357" stroke="#262626" stroke-width="1"/>
<line x1="541.67" y1="336.9" x2="545.67" y2="336.9" stroke="#262626" stroke-width="1"/>
<line x1="541.67" y1="357" x2="545.67" y2="357" stroke="#262626" stroke-width="1"/>
<line x1="562.90" y1="337.4" x2="562.90" y2="354" stroke="#262626" stroke-width="1"/>
<line x1="560.90" y1="337.4" x2="564.90" y2="337.4" stroke="#262626" stroke-width="1"/>
<line x1="560.90" y1="354" x2="564.90" y2="354" stroke="#262626" stroke-width="1"/>
<line x1="582.13" y1="339.7" x2="582.13" y2="357" stroke="#262626" stroke-width="1"/>
<line x1="580.13" y1="339.7" x2="584.13" y2="339.7" stroke="#262626" stroke-width="1"/>
<line x1="580.13" y1="357" x2="584.13" y2="357" stroke="#262626" stroke-width="1"/>
<line x1="615.77" y1="301.9" x2="615.77" y2="353.8" stroke="#262626" stroke-width="1"/>
<line x1="613.77" y1="301.9" x2="617.77" y2="301.9" stroke="#262626" stroke-width="1"/>
<line x1="613.77" y1="353.8" x2="617.77" y2="353.8" stroke="#262626" stroke-width="1"/>
<line x1="635.00" y1="301.9" x2="635.00" y2="350.9" stroke="#262626" stroke-width="1"/>
<line x1="633.00" y1="301.9" x2="637.00" y2="301.9" stroke="#262626" stroke-width="1"/>
<line x1="633.00" y1="350.9" x2="637.00" y2="350.9" stroke="#262626" stroke-width="1"/>
<line x1="654.23" y1="333.7" x2="654.23" y2="354.4" stroke="#262626" stroke-width="1"/>
<line x1="652.23" y1="333.7" x2="656.23" y2="333.7" stroke="#262626" stroke-width="1"/>
<line x1="652.23" y1="354.4" x2="656.23" y2="354.4" stroke="#262626" stroke-width="1"/>
<circle cx="398.1" cy="278.4" r="1.85" fill="#1414f0" fill-opacity="0.66"/>
<circle cx="401.7" cy="314.2" r="1.85" fill="#1414f0" fill-opacity="0.66"/>
<circle cx="399.8" cy="320.2" r="1.85" fill="#1414f0" fill-opacity="0.66"/>
<circle cx="401.7" cy="321.4" r="1.85" fill="#1414f0" fill-opacity="0.66"/>
<circle cx="398.1" cy="325" r="1.85" fill="#1414f0" fill-opacity="0.66"/>
<circle cx="401.2" cy="326.9" r="1.85" fill="#1414f0" fill-opacity="0.66"/>
<circle cx="397.4" cy="329.7" r="1.85" fill="#1414f0" fill-opacity="0.66"/>
<circle cx="400.5" cy="331.6" r="1.85" fill="#1414f0" fill-opacity="0.66"/>
<circle cx="401.7" cy="334.5" r="1.85" fill="#1414f0" fill-opacity="0.66"/>
<circle cx="398.1" cy="336.9" r="1.85" fill="#1414f0" fill-opacity="0.66"/>
<circle cx="399.8" cy="339.3" r="1.85" fill="#1414f0" fill-opacity="0.66"/>
<circle cx="398.1" cy="341.7" r="1.85" fill="#1414f0" fill-opacity="0.66"/>
<circle cx="399.8" cy="346.5" r="1.85" fill="#1414f0" fill-opacity="0.66"/>
<circle cx="418.5" cy="221.5" r="1.85" fill="#f01414" fill-opacity="0.66"/>
<circle cx="420.4" cy="287.2" r="1.85" fill="#f01414" fill-opacity="0.66"/>
<circle cx="416.1" cy="303.5" r="1.85" fill="#f01414" fill-opacity="0.66"/>
<circle cx="420.4" cy="303.5" r="1.85" fill="#f01414" fill-opacity="0.66"/>
<circle cx="418.5" cy="309.4" r="1.85" fill="#f01414" fill-opacity="0.66"/>
<circle cx="417.3" cy="315.4" r="1.85" fill="#f01414" fill-opacity="0.66"/>
<circle cx="420.8" cy="316.6" r="1.85" fill="#f01414" fill-opacity="0.66"/>
<circle cx="418.5" cy="320.2" r="1.85" fill="#f01414" fill-opacity="0.66"/>
<circle cx="417.3" cy="323.8" r="1.85" fill="#f01414" fill-opacity="0.66"/>
<circle cx="418.5" cy="332.1" r="1.85" fill="#f01414" fill-opacity="0.66"/>
<circle cx="420.8" cy="333.3" r="1.85" fill="#f01414" fill-opacity="0.66"/>
<circle cx="417.3" cy="335.7" r="1.85" fill="#f01414" fill-opacity="0.66"/>
<circle cx="419.6" cy="339.3" r="1.85" fill="#f01414" fill-opacity="0.66"/>
<circle cx="435.2" cy="277.9" r="1.85" fill="#1a8a1a" fill-opacity="0.66"/>
<circle cx="440" cy="301.8" r="1.85" fill="#1a8a1a" fill-opacity="0.66"/>
<circle cx="436.4" cy="307" r="1.85" fill="#1a8a1a" fill-opacity="0.66"/>
<circle cx="437.6" cy="313" r="1.85" fill="#1a8a1a" fill-opacity="0.66"/>
<circle cx="435.2" cy="319" r="1.85" fill="#1a8a1a" fill-opacity="0.66"/>
<circle cx="437.6" cy="328.5" r="1.85" fill="#1a8a1a" fill-opacity="0.66"/>
<circle cx="438.8" cy="334.5" r="1.85" fill="#1a8a1a" fill-opacity="0.66"/>
<circle cx="436.4" cy="336.9" r="1.85" fill="#1a8a1a" fill-opacity="0.66"/>
<circle cx="438" cy="340.5" r="1.85" fill="#1a8a1a" fill-opacity="0.66"/>
<circle cx="470.4" cy="335.9" r="1.85" fill="#1414f0" fill-opacity="0.66"/>
<circle cx="473.8" cy="338.6" r="1.85" fill="#1414f0" fill-opacity="0.66"/>
<circle cx="469.5" cy="340.1" r="1.85" fill="#1414f0" fill-opacity="0.66"/>
<circle cx="470.6" cy="342.3" r="1.85" fill="#1414f0" fill-opacity="0.66"/>
<circle cx="472.7" cy="343.3" r="1.85" fill="#1414f0" fill-opacity="0.66"/>
<circle cx="470.1" cy="344.9" r="1.85" fill="#1414f0" fill-opacity="0.66"/>
<circle cx="472.2" cy="346" r="1.85" fill="#1414f0" fill-opacity="0.66"/>
<circle cx="473.8" cy="345.4" r="1.85" fill="#1414f0" fill-opacity="0.66"/>
<circle cx="470.6" cy="348.1" r="1.85" fill="#1414f0" fill-opacity="0.66"/>
<circle cx="469.5" cy="349.2" r="1.85" fill="#1414f0" fill-opacity="0.66"/>
<circle cx="473.3" cy="350.7" r="1.85" fill="#1414f0" fill-opacity="0.66"/>
<circle cx="472.2" cy="352.9" r="1.85" fill="#1414f0" fill-opacity="0.66"/>
<circle cx="491.7" cy="298.5" r="1.85" fill="#f01414" fill-opacity="0.66"/>
<circle cx="489.2" cy="330.1" r="1.85" fill="#f01414" fill-opacity="0.66"/>
<circle cx="492.9" cy="334.3" r="1.85" fill="#f01414" fill-opacity="0.66"/>
<circle cx="489.2" cy="335.9" r="1.85" fill="#f01414" fill-opacity="0.66"/>
<circle cx="490.2" cy="338.6" r="1.85" fill="#f01414" fill-opacity="0.66"/>
<circle cx="491.8" cy="341.7" r="1.85" fill="#f01414" fill-opacity="0.66"/>
<circle cx="492.9" cy="342.8" r="1.85" fill="#f01414" fill-opacity="0.66"/>
<circle cx="489.2" cy="343.9" r="1.85" fill="#f01414" fill-opacity="0.66"/>
<circle cx="491.8" cy="345.4" r="1.85" fill="#f01414" fill-opacity="0.66"/>
<circle cx="492.9" cy="347.6" r="1.85" fill="#f01414" fill-opacity="0.66"/>
<circle cx="488.6" cy="349.2" r="1.85" fill="#f01414" fill-opacity="0.66"/>
<circle cx="491.3" cy="349.7" r="1.85" fill="#f01414" fill-opacity="0.66"/>
<circle cx="492.9" cy="351.3" r="1.85" fill="#f01414" fill-opacity="0.66"/>
<circle cx="510.9" cy="327.2" r="1.85" fill="#1a8a1a" fill-opacity="0.66"/>
<circle cx="507.7" cy="332.7" r="1.85" fill="#1a8a1a" fill-opacity="0.66"/>
<circle cx="511.9" cy="333.3" r="1.85" fill="#1a8a1a" fill-opacity="0.66"/>
<circle cx="509.8" cy="335.4" r="1.85" fill="#1a8a1a" fill-opacity="0.66"/>
<circle cx="510.9" cy="337.5" r="1.85" fill="#1a8a1a" fill-opacity="0.66"/>
<circle cx="508.2" cy="340.1" r="1.85" fill="#1a8a1a" fill-opacity="0.66"/>
<circle cx="508.8" cy="342.8" r="1.85" fill="#1a8a1a" fill-opacity="0.66"/>
<circle cx="509.8" cy="345.4" r="1.85" fill="#1a8a1a" fill-opacity="0.66"/>
<circle cx="511.9" cy="347.6" r="1.85" fill="#1a8a1a" fill-opacity="0.66"/>
<circle cx="508.2" cy="349.2" r="1.85" fill="#1a8a1a" fill-opacity="0.66"/>
<circle cx="509.8" cy="350.7" r="1.85" fill="#1a8a1a" fill-opacity="0.66"/>
<circle cx="542.7" cy="306.6" r="1.85" fill="#1414f0" fill-opacity="0.66"/>
<circle cx="543" cy="342" r="1.85" fill="#1414f0" fill-opacity="0.66"/>
<circle cx="545" cy="345" r="1.85" fill="#1414f0" fill-opacity="0.66"/>
<circle cx="541.5" cy="349" r="1.85" fill="#1414f0" fill-opacity="0.66"/>
<circle cx="544.5" cy="351" r="1.85" fill="#1414f0" fill-opacity="0.66"/>
<circle cx="542" cy="353" r="1.85" fill="#1414f0" fill-opacity="0.66"/>
<circle cx="545" cy="355" r="1.85" fill="#1414f0" fill-opacity="0.66"/>
<circle cx="543" cy="357" r="1.85" fill="#1414f0" fill-opacity="0.66"/>
<circle cx="564.4" cy="328.6" r="1.85" fill="#f01414" fill-opacity="0.66"/>
<circle cx="561.5" cy="333.5" r="1.85" fill="#f01414" fill-opacity="0.66"/>
<circle cx="562" cy="337" r="1.85" fill="#f01414" fill-opacity="0.66"/>
<circle cx="565" cy="340" r="1.85" fill="#f01414" fill-opacity="0.66"/>
<circle cx="561" cy="343" r="1.85" fill="#f01414" fill-opacity="0.66"/>
<circle cx="563" cy="347" r="1.85" fill="#f01414" fill-opacity="0.66"/>
<circle cx="561.5" cy="350" r="1.85" fill="#f01414" fill-opacity="0.66"/>
<circle cx="564.5" cy="351" r="1.85" fill="#f01414" fill-opacity="0.66"/>
<circle cx="563" cy="356" r="1.85" fill="#f01414" fill-opacity="0.66"/>
<circle cx="583.6" cy="329.8" r="1.85" fill="#1a8a1a" fill-opacity="0.66"/>
<circle cx="579.7" cy="333" r="1.85" fill="#1a8a1a" fill-opacity="0.66"/>
<circle cx="582" cy="340" r="1.85" fill="#1a8a1a" fill-opacity="0.66"/>
<circle cx="584" cy="344" r="1.85" fill="#1a8a1a" fill-opacity="0.66"/>
<circle cx="580.5" cy="346" r="1.85" fill="#1a8a1a" fill-opacity="0.66"/>
<circle cx="582.5" cy="350" r="1.85" fill="#1a8a1a" fill-opacity="0.66"/>
<circle cx="580" cy="353" r="1.85" fill="#1a8a1a" fill-opacity="0.66"/>
<circle cx="583" cy="355" r="1.85" fill="#1a8a1a" fill-opacity="0.66"/>
<circle cx="613.6" cy="272.3" r="1.85" fill="#1414f0" fill-opacity="0.66"/>
<circle cx="616.6" cy="276.7" r="1.85" fill="#1414f0" fill-opacity="0.66"/>
<circle cx="616.6" cy="295.9" r="1.85" fill="#1414f0" fill-opacity="0.66"/>
<circle cx="613.3" cy="309.3" r="1.85" fill="#1414f0" fill-opacity="0.66"/>
<circle cx="615.4" cy="316.7" r="1.85" fill="#1414f0" fill-opacity="0.66"/>
<circle cx="614" cy="321" r="1.85" fill="#1414f0" fill-opacity="0.66"/>
<circle cx="616" cy="330" r="1.85" fill="#1414f0" fill-opacity="0.66"/>
<circle cx="613.5" cy="335" r="1.85" fill="#1414f0" fill-opacity="0.66"/>
<circle cx="615.5" cy="340" r="1.85" fill="#1414f0" fill-opacity="0.66"/>
<circle cx="614" cy="344" r="1.85" fill="#1414f0" fill-opacity="0.66"/>
<circle cx="617" cy="347" r="1.85" fill="#1414f0" fill-opacity="0.66"/>
<circle cx="613.8" cy="352" r="1.85" fill="#1414f0" fill-opacity="0.66"/>
<circle cx="633.7" cy="267.2" r="1.85" fill="#f01414" fill-opacity="0.66"/>
<circle cx="632" cy="275" r="1.85" fill="#f01414" fill-opacity="0.66"/>
<circle cx="634.4" cy="295.5" r="1.85" fill="#f01414" fill-opacity="0.66"/>
<circle cx="632" cy="305" r="1.85" fill="#f01414" fill-opacity="0.66"/>
<circle cx="634" cy="328" r="1.85" fill="#f01414" fill-opacity="0.66"/>
<circle cx="636" cy="331" r="1.85" fill="#f01414" fill-opacity="0.66"/>
<circle cx="633" cy="334" r="1.85" fill="#f01414" fill-opacity="0.66"/>
<circle cx="637" cy="337" r="1.85" fill="#f01414" fill-opacity="0.66"/>
<circle cx="632.5" cy="341" r="1.85" fill="#f01414" fill-opacity="0.66"/>
<circle cx="635.5" cy="345" r="1.85" fill="#f01414" fill-opacity="0.66"/>
<circle cx="634" cy="348" r="1.85" fill="#f01414" fill-opacity="0.66"/>
<circle cx="651.6" cy="322" r="1.85" fill="#1a8a1a" fill-opacity="0.66"/>
<circle cx="654" cy="328" r="1.85" fill="#1a8a1a" fill-opacity="0.66"/>
<circle cx="651.5" cy="335" r="1.85" fill="#1a8a1a" fill-opacity="0.66"/>
<circle cx="655" cy="340" r="1.85" fill="#1a8a1a" fill-opacity="0.66"/>
<circle cx="652.5" cy="344" r="1.85" fill="#1a8a1a" fill-opacity="0.66"/>
<circle cx="656" cy="348" r="1.85" fill="#1a8a1a" fill-opacity="0.66"/>
<circle cx="653" cy="352" r="1.85" fill="#1a8a1a" fill-opacity="0.66"/>
<circle cx="655.5" cy="355" r="1.85" fill="#1a8a1a" fill-opacity="0.66"/>
<line x1="397" y1="215.1" x2="420.6" y2="215.1" stroke="#111" stroke-width="1.4"/>
<path d="M406.05,208.75L406.05,212.25M404.53,209.62L407.57,211.38M404.53,211.38L407.57,209.62" stroke="#454545" stroke-width="1.0" stroke-linecap="round" fill="none"/>
<circle cx="406.05" cy="210.50" r="0.8" fill="#444"/>
<path d="M411.55,208.75L411.55,212.25M410.03,209.62L413.07,211.38M410.03,211.38L413.07,209.62" stroke="#454545" stroke-width="1.0" stroke-linecap="round" fill="none"/>
<circle cx="411.55" cy="210.50" r="0.8" fill="#444"/>
<line x1="468.2" y1="276.8" x2="511.2" y2="276.8" stroke="#111" stroke-width="1.4"/>
<path d="M486.45,270.65L486.45,274.15M484.93,271.52L487.97,273.27M484.93,273.27L487.97,271.52" stroke="#454545" stroke-width="1.0" stroke-linecap="round" fill="none"/>
<circle cx="486.45" cy="272.40" r="0.8" fill="#444"/>
<path d="M491.95,270.65L491.95,274.15M490.43,271.52L493.47,273.27M490.43,273.27L493.47,271.52" stroke="#454545" stroke-width="1.0" stroke-linecap="round" fill="none"/>
<circle cx="491.95" cy="272.40" r="0.8" fill="#444"/>
<line x1="469.7" y1="288.3" x2="492.6" y2="288.3" stroke="#111" stroke-width="1.4"/>
<path d="M477.65,282.35L477.65,285.85M476.13,283.23L479.17,284.98M476.13,284.98L479.17,283.23" stroke="#454545" stroke-width="1.0" stroke-linecap="round" fill="none"/>
<circle cx="477.65" cy="284.10" r="0.8" fill="#444"/>
<path d="M483.15,282.35L483.15,285.85M481.63,283.23L484.67,284.98M481.63,284.98L484.67,283.23" stroke="#454545" stroke-width="1.0" stroke-linecap="round" fill="none"/>
<circle cx="483.15" cy="284.10" r="0.8" fill="#444"/>
<line x1="538.1" y1="288.2" x2="561.6" y2="288.2" stroke="#111" stroke-width="1.4"/>
<path d="M550.80,282.05L550.80,285.55M549.28,282.93L552.32,284.68M549.28,284.68L552.32,282.93" stroke="#454545" stroke-width="1.0" stroke-linecap="round" fill="none"/>
<circle cx="550.80" cy="283.80" r="0.8" fill="#444"/>
<line x1="613.1" y1="243.3" x2="655.8" y2="243.3" stroke="#111" stroke-width="1.4"/>
<path d="M629.80,237.05L629.80,240.55M628.28,237.93L631.32,239.68M628.28,239.68L631.32,237.93" stroke="#454545" stroke-width="1.0" stroke-linecap="round" fill="none"/>
<circle cx="629.80" cy="238.80" r="0.8" fill="#444"/>
<path d="M635.30,237.05L635.30,240.55M633.78,237.93L636.82,239.68M633.78,239.68L636.82,237.93" stroke="#454545" stroke-width="1.0" stroke-linecap="round" fill="none"/>
<circle cx="635.30" cy="238.80" r="0.8" fill="#444"/>
<path d="M640.80,237.05L640.80,240.55M639.28,237.93L642.32,239.68M639.28,239.68L642.32,237.93" stroke="#454545" stroke-width="1.0" stroke-linecap="round" fill="none"/>
<circle cx="640.80" cy="238.80" r="0.8" fill="#444"/>
<line x1="632.1" y1="255.4" x2="655.8" y2="255.4" stroke="#111" stroke-width="1.4"/>
<path d="M638.20,248.85L638.20,252.35M636.68,249.72L639.72,251.47M636.68,251.47L639.72,249.72" stroke="#454545" stroke-width="1.0" stroke-linecap="round" fill="none"/>
<circle cx="638.20" cy="250.60" r="0.8" fill="#444"/>
<path d="M643.70,248.85L643.70,252.35M642.18,249.72L645.22,251.47M642.18,251.47L645.22,249.72" stroke="#454545" stroke-width="1.0" stroke-linecap="round" fill="none"/>
<circle cx="643.70" cy="250.60" r="0.8" fill="#444"/>
<path d="M649.20,248.85L649.20,252.35M647.68,249.72L650.72,251.47M647.68,251.47L650.72,249.72" stroke="#454545" stroke-width="1.0" stroke-linecap="round" fill="none"/>
<circle cx="649.20" cy="250.60" r="0.8" fill="#444"/>
<rect x="437.3" y="199.1" width="228.99999999999994" height="14.900000000000006" rx="2" fill="#ffffff" fill-opacity="0.85" stroke="#e2e2e2" stroke-width="0.7"/>
<rect x="441" y="203.1" width="17" height="5.599999999999994" fill="#7474f6"/>
<text x="464.80" y="208.80" font-size="11.2" text-anchor="start" fill="#262626" >OPEN</text>
<rect x="523.6" y="203.1" width="16.899999999999977" height="5.599999999999994" fill="#e6737a"/>
<text x="547.30" y="208.80" font-size="11.2" text-anchor="start" fill="#262626" >CLOSE</text>
<rect x="611.2" y="203.1" width="16.5" height="5.599999999999994" fill="#76b276"/>
<text x="635.00" y="208.80" font-size="11.2" text-anchor="start" fill="#262626" >SLEEP</text>
<text x="377.20" y="364.90" font-size="11" text-anchor="end" fill="#262626" >0.0</text>
<text x="377.20" y="339.30" font-size="11" text-anchor="end" fill="#262626" >0.1</text>
<text x="377.20" y="313.70" font-size="11" text-anchor="end" fill="#262626" >0.2</text>
<text x="377.20" y="288.10" font-size="11" text-anchor="end" fill="#262626" >0.3</text>
<text x="377.20" y="262.50" font-size="11" text-anchor="end" fill="#262626" >0.4</text>
<text x="377.20" y="236.90" font-size="11" text-anchor="end" fill="#262626" >0.5</text>
<text x="377.20" y="211.30" font-size="11" text-anchor="end" fill="#262626" >0.6</text>
<text x="418.70" y="373.00" font-size="10.8" text-anchor="middle" fill="#262626" >LOWFREQ</text>
<text x="490.80" y="373.00" font-size="10.8" text-anchor="middle" fill="#262626" >THETA</text>
<text x="562.90" y="373.00" font-size="10.8" text-anchor="middle" fill="#262626" >ALPHA</text>
<text x="635.00" y="373.00" font-size="10.8" text-anchor="middle" fill="#262626" >BETA</text>
<text x="0" y="0" font-size="10.4" text-anchor="middle" fill="#262626" transform="translate(359.8,279.6) rotate(-90)">SUM POWER (A.U.)</text>
<text x="350.50" y="185.00" font-size="17.5" text-anchor="start" fill="#111" >F</text>
</svg>
</body></html>
